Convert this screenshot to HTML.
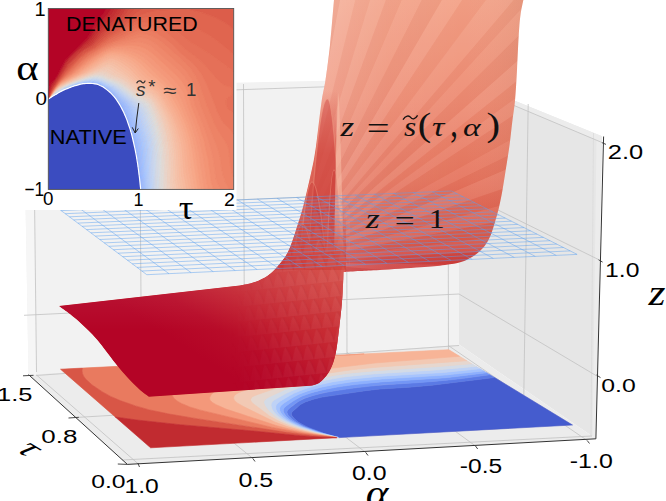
<!DOCTYPE html>
<html><head><meta charset="utf-8"><style>html,body{margin:0;padding:0;background:#fff;overflow:hidden}svg{display:block}</style></head>
<body><svg width="666" height="501" viewBox="0 0 666 501"><defs><clipPath id="silc"><path d="M334.0 0.0 C333.3 7.5 331.4 31.7 330.0 45.0 C328.6 58.3 326.9 70.8 325.5 80.0 C324.1 89.2 323.1 91.7 321.8 100.0 C320.6 108.3 319.3 120.0 318.0 130.0 C316.7 140.0 316.2 147.7 313.8 160.0 C311.4 172.3 306.8 192.3 303.8 204.0 C300.8 215.7 298.6 222.0 296.0 230.0 C293.4 238.0 291.0 246.0 288.0 252.0 C285.0 258.0 281.3 262.1 278.0 266.0 C274.7 269.9 271.8 272.8 268.0 275.5 C264.2 278.2 259.7 280.3 255.0 282.0 C250.3 283.7 242.5 284.9 240.0 285.5 L59 306 C60.8 307.3 66.7 311.4 70.0 314.0 C73.3 316.6 76.0 318.8 79.0 321.5 C82.0 324.2 85.0 327.0 88.0 330.0 C91.0 333.0 94.0 336.1 97.0 339.6 C100.0 343.1 103.0 347.1 106.0 351.0 C109.0 354.9 112.4 359.4 115.2 363.0 C118.0 366.6 120.4 369.5 123.0 372.5 C125.6 375.5 128.0 378.2 130.8 381.1 C133.6 384.0 137.0 387.4 140.0 390.0 C143.0 392.6 147.4 395.6 148.9 396.7 L310.3 385.8 C311.6 385.4 315.9 384.6 318.0 383.5 C320.1 382.4 321.1 381.5 323.0 379.5 C324.9 377.5 327.4 374.9 329.2 371.6 C331.0 368.4 332.7 364.4 334.0 360.0 C335.3 355.6 336.1 351.1 337.0 345.3 C337.9 339.5 338.7 331.9 339.5 325.0 C340.3 318.1 341.2 310.5 341.8 303.8 C342.4 297.1 342.7 290.3 343.0 285.0 C343.3 279.7 343.3 274.2 343.4 272.0 C346.2 271.8 353.9 271.3 360.0 271.0 C366.1 270.7 369.9 270.6 380.0 270.0 C390.1 269.4 409.7 268.1 420.5 267.3 C431.3 266.5 438.2 265.9 445.0 265.0 C451.8 264.1 456.5 263.3 461.0 262.0 C465.5 260.7 468.8 258.8 472.0 257.0 C475.2 255.2 477.7 253.2 480.0 251.0 C482.3 248.8 484.2 246.7 486.0 244.0 C487.8 241.3 489.3 238.6 490.8 234.9 C492.3 231.2 493.6 226.5 495.0 222.0 C496.4 217.5 497.6 213.1 498.9 207.8 C500.1 202.5 501.4 196.3 502.5 190.0 C503.6 183.7 504.5 177.7 505.7 170.0 C506.9 162.3 508.6 152.2 509.7 143.9 C510.8 135.6 511.6 127.2 512.5 120.0 C513.4 112.8 514.2 109.0 515.0 100.7 C515.8 92.4 516.4 80.8 517.0 70.0 C517.6 59.2 518.1 45.2 518.7 36.0 C519.3 26.8 519.7 21.0 520.5 15.0 C521.3 9.0 522.9 2.5 523.4 0.0 Z"/></clipPath>
<linearGradient id="wallg" x1="0" y1="0" x2="0" y2="280" gradientUnits="userSpaceOnUse"><stop offset="0.000" stop-color="rgb(243,160,133)"/><stop offset="0.357" stop-color="rgb(238,140,115)"/><stop offset="0.643" stop-color="rgb(230,118,95)"/><stop offset="0.857" stop-color="rgb(218,88,72)"/><stop offset="0.946" stop-color="rgb(205,58,56)"/><stop offset="1.000" stop-color="rgb(198,45,50)"/></linearGradient>
<linearGradient id="wallh" x1="315" y1="0" x2="525" y2="0" gradientUnits="userSpaceOnUse"><stop offset="0.000" stop-color="#fff" stop-opacity="0.22"/><stop offset="0.350" stop-color="#fff" stop-opacity="0.06"/><stop offset="0.700" stop-color="#fff" stop-opacity="0.00"/><stop offset="1.000" stop-color="#000" stop-opacity="0.04"/></linearGradient>
<linearGradient id="colg" x1="0" y1="90" x2="0" y2="300" gradientUnits="userSpaceOnUse"><stop offset="0.000" stop-color="rgb(212,70,60)" stop-opacity="0.00"/><stop offset="0.300" stop-color="rgb(212,70,60)" stop-opacity="0.60"/><stop offset="1.000" stop-color="rgb(205,60,55)" stop-opacity="0.75"/></linearGradient>
<linearGradient id="lpg" x1="245" y1="385" x2="345" y2="228" gradientUnits="userSpaceOnUse"><stop offset="0.000" stop-color="rgb(180,4,38)"/><stop offset="0.180" stop-color="rgb(184,12,41)"/><stop offset="0.420" stop-color="rgb(197,38,49)"/><stop offset="0.680" stop-color="rgb(207,60,58)"/><stop offset="1.000" stop-color="rgb(218,86,70)"/></linearGradient>
<linearGradient id="lpm" x1="0" y1="212" x2="0" y2="255" gradientUnits="userSpaceOnUse"><stop offset="0.000" stop-color="#fff" stop-opacity="0.00"/><stop offset="1.000" stop-color="#fff" stop-opacity="1.00"/></linearGradient>
<mask id="lpmask"><rect x="0" y="0" width="666" height="501" fill="url(#lpm)"/></mask>
<linearGradient id="ptop" x1="0" y1="282" x2="0" y2="330" gradientUnits="userSpaceOnUse"><stop offset="0.000" stop-color="#fff" stop-opacity="0.07"/><stop offset="1.000" stop-color="#fff" stop-opacity="0.00"/></linearGradient>
<pattern id="latt" width="11" height="15" patternUnits="userSpaceOnUse" patternTransform="rotate(-6)"><path d="M0 15 C2 7 4 2 5.5 0 C7 2 9 7 11 15 Z" fill="#fff" fill-opacity="0.05"/><path d="M5.5 0 C7 2 9 7 11 15" stroke="#6a0010" stroke-opacity="0.07" stroke-width="1.2" fill="none"/></pattern>
<linearGradient id="lattm" x1="230" y1="0" x2="345" y2="0" gradientUnits="userSpaceOnUse"><stop offset="0.000" stop-color="#fff" stop-opacity="0.00"/><stop offset="0.500" stop-color="#fff" stop-opacity="0.80"/><stop offset="1.000" stop-color="#fff" stop-opacity="1.00"/></linearGradient>
<mask id="lattmask"><rect x="0" y="0" width="666" height="501" fill="url(#lattm)"/></mask>
<clipPath id="insc"><rect x="48.3" y="8.5" width="185.4" height="180.9"/></clipPath></defs>
<polygon points="23.5,87.2 459.0,78.0 459.0,344.5 28.5,374.6" fill="#f2f2f2" />
<polygon points="459.0,78.0 602.0,136.3 595.9,438.8 459.0,344.5" fill="#e6e6e6" />
<polygon points="28.5,374.6 459.0,344.5 595.9,438.8 127.4,464.4" fill="#ececec" />
<polygon points="23.5,87.2 33.2,87.0 36.5,375.0 28.5,374.6" fill="#f6f6f6" />
<polygon points="459.0,78.0 602.0,136.3 601.5,142.3 459.0,82.3" fill="#ececec" />
<polygon points="596.5,139.0 602.0,136.3 595.9,438.8 592.5,436.5" fill="#ececec" />
<line x1="33.2" y1="84.0" x2="36.5" y2="372.0" stroke="#c2c2c2" stroke-width="0.80" />
<line x1="139.5" y1="84.0" x2="141.5" y2="372.0" stroke="#c2c2c2" stroke-width="0.80" />
<line x1="243.5" y1="84.0" x2="244.5" y2="372.0" stroke="#c2c2c2" stroke-width="0.80" />
<line x1="346.5" y1="84.0" x2="347.0" y2="372.0" stroke="#c2c2c2" stroke-width="0.80" />
<line x1="448.0" y1="84.0" x2="448.5" y2="372.0" stroke="#c2c2c2" stroke-width="0.80" />
<line x1="24.0" y1="97.0" x2="459.0" y2="82.3" stroke="#c2c2c2" stroke-width="0.80" />
<line x1="24.0" y1="208.6" x2="459.0" y2="190.8" stroke="#c2c2c2" stroke-width="0.80" />
<line x1="24.0" y1="315.3" x2="459.0" y2="294.0" stroke="#c2c2c2" stroke-width="0.80" />
<line x1="528.2" y1="104.0" x2="523.8" y2="395.0" stroke="#c2c2c2" stroke-width="0.80" />
<line x1="593.5" y1="133.0" x2="591.0" y2="436.0" stroke="#dadada" stroke-width="0.80" />
<line x1="459.0" y1="82.3" x2="601.5" y2="142.3" stroke="#c2c2c2" stroke-width="0.80" />
<line x1="459.0" y1="190.8" x2="599.0" y2="259.8" stroke="#c2c2c2" stroke-width="0.80" />
<line x1="459.0" y1="294.0" x2="596.8" y2="376.0" stroke="#c2c2c2" stroke-width="0.80" />
<line x1="36.5" y1="375.0" x2="137.8" y2="463.5" stroke="#c2c2c2" stroke-width="0.80" />
<line x1="140.5" y1="367.0" x2="252.8" y2="458.4" stroke="#c2c2c2" stroke-width="0.80" />
<line x1="244.0" y1="360.0" x2="365.7" y2="452.4" stroke="#c2c2c2" stroke-width="0.80" />
<line x1="347.0" y1="352.5" x2="475.5" y2="446.0" stroke="#c2c2c2" stroke-width="0.80" />
<line x1="448.0" y1="345.3" x2="587.2" y2="440.5" stroke="#c2c2c2" stroke-width="0.80" />
<line x1="78.9" y1="417.3" x2="515.0" y2="391.5" stroke="#c2c2c2" stroke-width="0.80" />
<line x1="36.0" y1="375.5" x2="459.0" y2="345.5" stroke="#c2c2c2" stroke-width="0.80" />
<line x1="122.0" y1="460.0" x2="592.0" y2="436.0" stroke="#c2c2c2" stroke-width="0.80" />
<line x1="28.5" y1="374.6" x2="127.4" y2="464.4" stroke="#333333" stroke-width="1.00" />
<line x1="127.4" y1="464.4" x2="595.9" y2="438.8" stroke="#333333" stroke-width="1.00" />
<line x1="603.6" y1="136.5" x2="595.9" y2="438.8" stroke="#333333" stroke-width="1.00" />
<line x1="23.0" y1="375.8" x2="33.5" y2="375.3" stroke="#333333" stroke-width="0.90" />
<line x1="68.5" y1="418.0" x2="78.9" y2="417.3" stroke="#333333" stroke-width="0.90" />
<line x1="117.8" y1="464.0" x2="127.4" y2="464.4" stroke="#333333" stroke-width="0.90" />
<line x1="137.8" y1="463.0" x2="139.5" y2="467.0" stroke="#333333" stroke-width="0.90" />
<line x1="252.8" y1="458.4" x2="255.0" y2="461.5" stroke="#333333" stroke-width="0.90" />
<line x1="365.7" y1="452.4" x2="368.0" y2="455.5" stroke="#333333" stroke-width="0.90" />
<line x1="475.5" y1="446.0" x2="477.7" y2="449.0" stroke="#333333" stroke-width="0.90" />
<line x1="587.2" y1="440.5" x2="589.5" y2="443.5" stroke="#333333" stroke-width="0.90" />
<line x1="601.8" y1="142.6" x2="606.0" y2="144.4" stroke="#333333" stroke-width="0.90" />
<line x1="598.6" y1="259.8" x2="602.6" y2="262.1" stroke="#333333" stroke-width="0.90" />
<line x1="596.5" y1="375.0" x2="600.5" y2="377.6" stroke="#333333" stroke-width="0.90" />
<polygon points="60.5,369.2 150.6,447.8 572.5,425.0 448.8,349.7" fill="#f2cbb7" />
<path d="M339.3 437.6 572.5 425.0 494.5 377.5 432.0 385.2 409.1 387.2 380.1 389.0 365.4 390.7 322.1 397.1 313.4 399.2 305.4 401.9 300.4 404.6 292.3 411.7 291.4 413.2 291.7 415.3 294.2 418.6 297.4 421.4 301.5 424.1 311.7 428.9 324.6 433.6 330.4 435.3 332.2 435.6 334.8 436.6 338.3 437.1 339.3 437.6Z" fill="#455cce" stroke="#455cce" stroke-width="0.6" stroke-linejoin="round"/>
<path d="M339.1 437.6 338.3 437.1 334.8 436.6 332.2 435.6 330.4 435.3 324.6 433.6 306.7 426.8 298.9 422.5 293.7 418.1 291.9 415.9 291.5 414.7 291.4 413.2 292.3 411.7 300.4 404.6 305.4 401.9 313.4 399.2 322.1 397.1 365.4 390.7 380.1 389.0 409.1 387.2 432.0 385.2 494.5 377.5 489.9 374.7 461.8 378.6 442.2 380.7 369.9 386.0 347.9 388.8 329.1 391.8 315.8 394.7 305.7 397.9 298.7 401.2 288.6 408.9 287.5 410.3 286.9 412.0 287.7 414.4 288.8 416.0 292.1 419.3 295.9 422.1 300.6 424.7 306.4 427.4 323.9 433.6 339.1 437.6Z" fill="#5b7ae5" stroke="#5b7ae5" stroke-width="0.6" stroke-linejoin="round"/>
<path d="M338.9 437.6 323.9 433.6 306.4 427.4 300.6 424.7 295.9 422.1 292.1 419.3 289.3 416.6 288.0 414.9 287.0 412.7 286.9 412.0 287.5 410.3 289.9 407.8 297.1 402.3 303.8 398.6 311.6 395.9 322.3 393.1 336.1 390.6 355.2 387.8 380.0 385.1 421.9 382.4 444.7 380.4 461.8 378.6 489.9 374.7 486.7 372.8 446.1 377.7 383.6 381.7 360.8 383.8 341.5 386.3 325.4 389.2 312.5 392.4 302.8 395.8 294.3 400.2 286.8 405.4 284.2 407.8 283.3 409.4 283.3 411.6 285.7 415.6 289.1 418.9 293.0 421.6 303.7 426.9 319.8 432.6 330.3 435.7 338.9 437.6Z" fill="#7396f5" stroke="#7396f5" stroke-width="0.6" stroke-linejoin="round"/>
<path d="M338.7 437.6 319.8 432.6 303.7 426.9 293.0 421.6 289.1 418.9 286.2 416.2 284.4 414.0 283.3 411.6 283.3 409.4 284.2 407.8 286.8 405.4 293.1 401.1 300.9 396.5 310.5 393.0 321.0 390.2 336.8 387.1 352.7 384.8 381.0 381.9 446.1 377.7 486.7 372.8 483.6 370.9 444.9 375.1 384.9 378.8 357.1 381.3 340.3 383.5 324.4 386.4 311.6 389.7 300.0 393.8 292.2 397.8 283.8 403.2 281.0 405.5 279.8 407.4 279.6 409.7 280.6 412.5 282.6 415.2 286.2 418.5 290.1 421.2 296.1 424.4 302.2 427.0 318.9 432.7 329.8 435.7 338.7 437.6Z" fill="#8db0fe" stroke="#8db0fe" stroke-width="0.6" stroke-linejoin="round"/>
<path d="M338.5 437.6 318.9 432.7 302.2 427.0 296.1 424.4 290.1 421.2 286.2 418.5 283.1 415.8 280.9 413.0 279.8 410.8 279.5 408.5 280.5 406.2 282.3 404.3 284.7 402.6 293.1 397.2 298.2 394.6 307.6 390.9 320.0 387.4 333.4 384.7 352.2 381.8 382.3 379.0 444.9 375.1 483.6 370.9 480.1 368.7 443.5 372.5 383.6 376.0 355.8 378.5 336.8 381.1 321.2 384.2 306.7 388.2 295.4 392.5 289.1 395.7 281.1 400.6 278.5 402.4 276.5 404.4 275.7 406.5 275.9 409.3 277.2 412.1 279.4 414.8 283.1 418.1 287.1 420.8 292.1 423.4 299.3 426.6 316.1 432.2 329.3 435.7 338.5 437.6Z" fill="#a6c4fe" stroke="#a6c4fe" stroke-width="0.6" stroke-linejoin="round"/>
<path d="M335.8 437.2 316.1 432.2 299.3 426.6 292.1 423.4 287.1 420.8 283.1 418.1 279.4 414.8 277.2 412.1 275.9 409.3 275.7 406.5 276.5 404.4 280.6 400.9 293.8 393.3 304.7 388.9 317.0 385.3 332.2 381.9 348.6 379.4 378.4 376.4 443.5 372.5 480.1 368.7 476.2 366.4 439.1 369.7 379.6 373.4 349.6 376.2 333.3 378.7 315.9 382.6 301.8 386.7 289.0 391.9 276.5 398.6 273.1 401.0 271.5 402.8 271.0 405.0 271.7 408.4 273.2 411.1 276.0 414.4 279.9 417.7 283.9 420.4 288.9 423.0 296.1 426.2 306.3 429.8 314.9 432.3 335.8 437.2Z" fill="#bed2f6" stroke="#bed2f6" stroke-width="0.6" stroke-linejoin="round"/>
<path d="M335.4 437.2 314.9 432.3 298.8 427.2 285.8 421.4 281.4 418.7 277.2 415.5 274.0 412.2 272.2 409.5 271.0 405.6 271.3 403.3 272.5 401.6 274.6 399.8 286.5 393.1 297.8 388.2 309.7 384.2 326.6 380.0 342.4 377.1 372.0 374.0 436.6 369.9 476.2 366.4 471.9 363.8 434.5 366.8 375.5 370.7 355.5 372.5 341.1 374.3 323.2 377.6 304.4 382.5 288.6 388.1 270.5 396.1 266.3 398.6 264.4 400.3 263.7 402.0 264.2 404.2 266.4 408.1 268.7 410.8 274.0 415.7 278.4 418.9 283.1 421.6 289.9 424.7 301.3 428.8 317.4 433.3 335.4 437.2Z" fill="#d3dbe7" stroke="#d3dbe7" stroke-width="0.6" stroke-linejoin="round"/>
<path d="M334.9 437.2 317.4 433.3 301.3 428.8 289.9 424.7 279.3 419.4 274.7 416.2 269.8 411.9 266.8 408.6 264.7 405.3 263.7 402.6 264.0 400.9 265.5 399.2 268.2 397.4 284.1 390.0 300.5 383.8 318.9 378.6 336.5 375.0 353.1 372.8 372.9 370.9 436.9 366.7 471.9 363.8 466.9 360.7 442.1 362.7 375.9 367.3 356.3 369.2 335.0 372.1 319.2 374.9 304.5 378.5 253.7 396.0 251.4 397.7 250.6 399.4 250.9 401.0 252.5 403.2 269.5 415.9 279.8 421.7 289.6 425.9 304.0 430.5 318.1 433.9 334.9 437.2Z" fill="#e6d7cf" stroke="#e6d7cf" stroke-width="0.6" stroke-linejoin="round"/>
<path d="M334.5 437.3 337.8 437.7 318.1 433.9 304.0 430.5 289.6 425.9 279.8 421.7 269.5 415.9 252.5 403.2 250.9 401.0 250.6 399.4 251.4 397.7 252.9 396.5 257.4 394.5 302.5 379.1 314.9 375.8 328.1 373.2 351.5 369.8 373.4 367.5 466.9 360.7 459.6 356.3 377.4 362.7 315.1 370.0 306.0 371.6 299.9 373.3 280.2 380.5 243.7 390.7 237.1 393.5 234.3 395.8 233.5 398.1 234.3 400.2 236.5 402.3 242.4 406.0 273.6 421.5 287.1 426.6 301.1 430.6 314.0 433.5 334.5 437.3Z" fill="#f2c9b4" stroke="#f2c9b4" stroke-width="0.6" stroke-linejoin="round"/>
<path d="M334.0 437.3 336.2 437.4 314.0 433.5 301.1 430.6 287.1 426.6 274.8 422.0 243.4 406.5 237.2 402.9 234.3 400.2 233.5 398.1 234.3 395.8 236.4 393.9 239.5 392.3 243.7 390.7 276.1 381.7 283.1 379.5 297.9 373.9 310.5 370.8 375.0 363.0 459.6 356.3 448.8 349.7 364.2 353.9 346.5 355.3 332.6 355.5 282.7 358.0 270.5 360.5 262.7 363.1 259.7 364.7 256.7 367.0 254.6 369.2 250.9 374.6 246.6 377.9 241.2 380.3 226.9 384.5 221.4 386.9 218.1 388.7 214.4 391.4 211.6 394.2 210.1 396.5 209.6 398.7 210.3 400.4 212.5 402.5 216.8 405.0 221.7 407.3 238.1 413.3 271.2 424.0 285.0 427.9 306.3 432.7 334.0 437.3Z" fill="#f7b497" stroke="#f7b497" stroke-width="0.6" stroke-linejoin="round"/>
<path d="M333.6 437.3 336.3 437.5 319.3 435.1 303.9 432.3 290.8 429.4 276.1 425.5 226.1 409.1 215.8 404.5 212.5 402.5 210.3 400.4 209.8 399.3 209.7 397.6 211.1 394.8 214.4 391.4 219.5 387.9 226.9 384.5 241.2 380.3 246.6 377.9 250.9 374.6 254.6 369.2 256.7 367.0 259.7 364.7 262.7 363.1 270.5 360.5 282.7 358.0 185.5 362.9 185.4 364.5 185.7 366.0 189.6 373.5 189.8 376.1 188.9 379.3 186.4 382.1 177.9 386.6 175.0 388.5 173.3 390.2 172.2 392.5 172.1 394.7 172.9 396.8 174.6 398.9 177.2 401.0 184.8 405.0 196.2 408.9 256.0 423.6 281.5 429.3 304.4 433.4 333.6 437.3ZM332.6 355.5 346.5 355.3 364.2 353.9 332.6 355.5Z" fill="#f4987a" stroke="#f4987a" stroke-width="0.6" stroke-linejoin="round"/>
<path d="M333.1 437.3 301.6 433.0 272.6 427.4 199.7 409.9 190.0 407.0 181.6 403.5 177.2 401.0 174.1 398.4 172.4 395.7 172.0 393.0 172.9 390.8 174.8 388.7 177.9 386.6 186.4 382.1 188.9 379.3 189.8 376.1 189.6 373.5 185.7 366.0 185.4 364.5 185.5 362.9 82.4 368.1 82.3 368.6 82.1 370.9 82.7 373.8 83.7 376.3 85.5 378.8 91.9 384.8 101.4 391.2 109.2 395.7 119.0 400.1 131.3 404.5 145.2 408.8 161.1 412.5 183.0 416.5 273.6 430.3 305.0 434.6 333.1 437.3Z" fill="#e97a5f" stroke="#e97a5f" stroke-width="0.6" stroke-linejoin="round"/>
<path d="M330.3 437.5 336.5 437.6 312.3 435.4 285.4 432.1 193.8 418.2 168.0 413.8 148.8 409.7 135.7 405.9 120.3 400.6 110.2 396.2 102.2 391.7 91.9 384.8 85.5 378.8 83.7 376.3 82.6 373.7 82.1 370.9 82.4 368.1 60.5 369.2 115.3 417.0 137.0 420.0 180.3 424.7 248.3 430.5 300.5 435.7 330.3 437.5Z" fill="#d85646" stroke="#d85646" stroke-width="0.6" stroke-linejoin="round"/>
<path d="M150.6 447.8 336.8 437.7 320.6 437.1 300.5 435.7 248.3 430.5 180.3 424.7 137.0 420.0 115.3 417.0 150.6 447.8Z" fill="#c12b30" stroke="#c12b30" stroke-width="0.6" stroke-linejoin="round"/>
<path d="M334.0 0.0 C333.3 7.5 331.4 31.7 330.0 45.0 C328.6 58.3 326.9 70.8 325.5 80.0 C324.1 89.2 323.1 91.7 321.8 100.0 C320.6 108.3 319.3 120.0 318.0 130.0 C316.7 140.0 316.2 147.7 313.8 160.0 C311.4 172.3 306.8 192.3 303.8 204.0 C300.8 215.7 298.6 222.0 296.0 230.0 C293.4 238.0 291.0 246.0 288.0 252.0 C285.0 258.0 281.3 262.1 278.0 266.0 C274.7 269.9 271.8 272.8 268.0 275.5 C264.2 278.2 259.7 280.3 255.0 282.0 C250.3 283.7 242.5 284.9 240.0 285.5 L59 306 C60.8 307.3 66.7 311.4 70.0 314.0 C73.3 316.6 76.0 318.8 79.0 321.5 C82.0 324.2 85.0 327.0 88.0 330.0 C91.0 333.0 94.0 336.1 97.0 339.6 C100.0 343.1 103.0 347.1 106.0 351.0 C109.0 354.9 112.4 359.4 115.2 363.0 C118.0 366.6 120.4 369.5 123.0 372.5 C125.6 375.5 128.0 378.2 130.8 381.1 C133.6 384.0 137.0 387.4 140.0 390.0 C143.0 392.6 147.4 395.6 148.9 396.7 L310.3 385.8 C311.6 385.4 315.9 384.6 318.0 383.5 C320.1 382.4 321.1 381.5 323.0 379.5 C324.9 377.5 327.4 374.9 329.2 371.6 C331.0 368.4 332.7 364.4 334.0 360.0 C335.3 355.6 336.1 351.1 337.0 345.3 C337.9 339.5 338.7 331.9 339.5 325.0 C340.3 318.1 341.2 310.5 341.8 303.8 C342.4 297.1 342.7 290.3 343.0 285.0 C343.3 279.7 343.3 274.2 343.4 272.0 C346.2 271.8 353.9 271.3 360.0 271.0 C366.1 270.7 369.9 270.6 380.0 270.0 C390.1 269.4 409.7 268.1 420.5 267.3 C431.3 266.5 438.2 265.9 445.0 265.0 C451.8 264.1 456.5 263.3 461.0 262.0 C465.5 260.7 468.8 258.8 472.0 257.0 C475.2 255.2 477.7 253.2 480.0 251.0 C482.3 248.8 484.2 246.7 486.0 244.0 C487.8 241.3 489.3 238.6 490.8 234.9 C492.3 231.2 493.6 226.5 495.0 222.0 C496.4 217.5 497.6 213.1 498.9 207.8 C500.1 202.5 501.4 196.3 502.5 190.0 C503.6 183.7 504.5 177.7 505.7 170.0 C506.9 162.3 508.6 152.2 509.7 143.9 C510.8 135.6 511.6 127.2 512.5 120.0 C513.4 112.8 514.2 109.0 515.0 100.7 C515.8 92.4 516.4 80.8 517.0 70.0 C517.6 59.2 518.1 45.2 518.7 36.0 C519.3 26.8 519.7 21.0 520.5 15.0 C521.3 9.0 522.9 2.5 523.4 0.0 Z" fill="url(#wallg)"/>
<g clip-path="url(#silc)"><rect x="290" y="0" width="240" height="275" fill="url(#wallh)"/></g>
<g clip-path="url(#silc)"><polygon points="290.0,262.0 338.8,-436.3 381.4,-432.0" fill="#fff" fill-opacity="0.050"/><polygon points="290.0,262.0 381.4,-432.0 421.2,-425.6" fill="#7a1010" fill-opacity="0.040"/><polygon points="290.0,262.0 421.2,-425.6 459.3,-417.2" fill="#fff" fill-opacity="0.080"/><polygon points="290.0,262.0 459.3,-417.2 494.7,-407.4" fill="#7a1010" fill-opacity="0.020"/><polygon points="290.0,262.0 494.7,-407.4 530.6,-395.4" fill="#fff" fill-opacity="0.065"/><polygon points="290.0,262.0 530.6,-395.4 564.6,-381.9" fill="#7a1010" fill-opacity="0.030"/><polygon points="290.0,262.0 564.6,-381.9 604.5,-363.4" fill="#fff" fill-opacity="0.050"/><polygon points="290.0,262.0 604.5,-363.4 641.1,-343.6" fill="#7a1010" fill-opacity="0.040"/><polygon points="290.0,262.0 641.1,-343.6 674.3,-323.1" fill="#fff" fill-opacity="0.080"/><polygon points="290.0,262.0 674.3,-323.1 709.3,-298.5" fill="#7a1010" fill-opacity="0.020"/><polygon points="290.0,262.0 709.3,-298.5 744.6,-270.3" fill="#fff" fill-opacity="0.065"/><polygon points="290.0,262.0 744.6,-270.3 762.0,-254.9" fill="#7a1010" fill-opacity="0.030"/><polygon points="290.0,262.0 762.0,-254.9 787.6,-230.4" fill="#fff" fill-opacity="0.050"/><polygon points="290.0,262.0 787.6,-230.4 814.3,-201.8" fill="#7a1010" fill-opacity="0.040"/><polygon points="290.0,262.0 814.3,-201.8 837.1,-174.7" fill="#fff" fill-opacity="0.080"/><polygon points="290.0,262.0 837.1,-174.7 856.3,-149.4" fill="#7a1010" fill-opacity="0.020"/><polygon points="290.0,262.0 856.3,-149.4 875.1,-122.3" fill="#fff" fill-opacity="0.065"/><polygon points="290.0,262.0 875.1,-122.3 902.2,-77.4" fill="#7a1010" fill-opacity="0.030"/><polygon points="290.0,262.0 902.2,-77.4 919.2,-44.9" fill="#fff" fill-opacity="0.050"/><polygon points="290.0,262.0 919.2,-44.9 933.4,-13.8" fill="#7a1010" fill-opacity="0.040"/><polygon points="290.0,262.0 933.4,-13.8 951.9,34.1" fill="#fff" fill-opacity="0.080"/><polygon points="290.0,262.0 951.9,34.1 966.1,80.8" fill="#7a1010" fill-opacity="0.020"/><polygon points="290.0,262.0 966.1,80.8 977.1,128.4" fill="#fff" fill-opacity="0.065"/><polygon points="290.0,262.0 977.1,128.4 984.8,176.7" fill="#7a1010" fill-opacity="0.030"/><polygon points="290.0,262.0 984.8,176.7 989.0,225.4" fill="#fff" fill-opacity="0.050"/><polygon points="290.0,262.0 989.0,225.4 989.9,274.2" fill="#7a1010" fill-opacity="0.040"/><polygon points="290.0,262.0 989.9,274.2 987.3,323.0" fill="#fff" fill-opacity="0.080"/><polygon points="290.0,262.0 987.3,323.0 981.4,371.5" fill="#7a1010" fill-opacity="0.020"/><polygon points="290.0,262.0 981.4,371.5 972.1,419.5" fill="#fff" fill-opacity="0.065"/></g>
<g clip-path="url(#silc)"><path d="M334.0 0.0 L330.0 45.0 L325.5 80.0 L321.8 100.0 L318.0 130.0 L313.8 160.0 L303.8 204.0 L296.0 230.0 L288.0 252.0 L278.0 266.0 L268.0 275.5 L300.0 300.0 L332.0 300.0 L334.0 250.0 L335.0 200.0 L336.0 150.0 L337.0 100.0 L339.0 40.0 L342.0 0.0 Z" fill="url(#colg)"/></g>
<g clip-path="url(#silc)"><path d="M306.0 300.0 C313.5 159.3 321.1 99.0 327.5 99.0 C332.1 99.0 337.6 159.3 343.0 300.0 Z" fill="rgb(200,55,52)" fill-opacity="0.39" stroke="rgb(245,165,140)" stroke-opacity="0.4" stroke-width="1.2"/><path d="M295.0 330.0 C300.9 226.4 306.9 182.0 312.0 182.0 C317.7 182.0 324.4 226.4 331.0 330.0 Z" fill="rgb(200,55,52)" fill-opacity="0.36" stroke="rgb(245,165,140)" stroke-opacity="0.4" stroke-width="1.2"/><path d="M286.0 345.0 C291.6 260.3 297.2 224.0 302.0 224.0 C308.0 224.0 315.0 260.3 322.0 345.0 Z" fill="rgb(200,55,52)" fill-opacity="0.34" stroke="rgb(245,165,140)" stroke-opacity="0.4" stroke-width="1.2"/><path d="M326.0 280.0 C328.8 203.0 331.6 170.0 334.0 170.0 C337.0 170.0 340.5 203.0 344.0 280.0 Z" fill="rgb(200,55,52)" fill-opacity="0.26" stroke="rgb(245,165,140)" stroke-opacity="0.4" stroke-width="1.2"/><path d="M306.0 360.0 C310.9 276.0 315.8 240.0 320.0 240.0 C325.4 240.0 331.7 276.0 338.0 360.0 Z" fill="rgb(200,55,52)" fill-opacity="0.29" stroke="rgb(245,165,140)" stroke-opacity="0.4" stroke-width="1.2"/></g>
<g clip-path="url(#silc)"><path d="M334 272 C335 200 336.5 120 338.5 92 C340.5 120 342 200 344.5 272 Z" fill="rgb(250,196,172)" fill-opacity="0.5"/></g>
<g clip-path="url(#silc)"><g mask="url(#lpmask)"><path d="M59 306 L240 285.5 C242.5 284.9 250.3 283.7 255.0 282.0 C259.7 280.3 264.2 278.2 268.0 275.5 C271.8 272.8 274.7 269.9 278.0 266.0 C281.3 262.1 285.0 258.0 288.0 252.0 C291.0 246.0 294.0 236.7 296.0 230.0 C298.0 223.3 299.3 215.0 300.0 212.0 L346 212 L346 390 L310.3 385.8 L148.9 396.7 C147.4 395.6 143.0 392.6 140.0 390.0 C137.0 387.4 133.6 384.0 130.8 381.1 C128.0 378.2 125.6 375.5 123.0 372.5 C120.4 369.5 118.0 366.6 115.2 363.0 C112.4 359.4 109.0 354.9 106.0 351.0 C103.0 347.1 100.0 343.1 97.0 339.6 C94.0 336.1 91.0 333.0 88.0 330.0 C85.0 327.0 82.0 324.2 79.0 321.5 C76.0 318.8 73.3 316.6 70.0 314.0 C66.7 311.4 60.8 307.3 59.0 306.0 Z" fill="url(#lpg)"/></g></g>
<g clip-path="url(#silc)"><rect x="55" y="270" width="290" height="70" fill="url(#ptop)"/></g>
<g clip-path="url(#silc)"><g mask="url(#lattmask)"><rect x="220" y="200" width="130" height="200" fill="url(#latt)"/></g></g>
<path d="M577.1 254.4 L451.6 191.0 M556.3 255.4 L432.4 191.8 M535.3 256.4 L413.2 192.6 M514.3 257.4 L393.9 193.4 M493.3 258.4 L374.6 194.2 M472.2 259.4 L355.2 195.0 M451.0 260.4 L335.7 195.8 M429.7 261.4 L316.2 196.7 M408.4 262.4 L296.6 197.5 M387.0 263.4 L277.0 198.3 M365.5 264.4 L257.3 199.1 M344.0 265.4 L237.5 200.0 M322.3 266.4 L217.7 200.8 M300.7 267.4 L197.8 201.6 M278.9 268.5 L177.9 202.4 M257.1 269.5 L157.9 203.3 M235.2 270.5 L137.8 204.1 M213.2 271.6 L117.7 205.0 M191.1 272.6 L97.5 205.8 M169.0 273.7 L77.3 206.7 M146.8 274.7 L57.0 207.5 M146.8 274.7 L577.1 254.4 M141.9 271.0 L570.2 250.9 M137.0 267.4 L563.5 247.5 M132.2 263.8 L556.7 244.1 M127.4 260.2 L550.1 240.7 M122.7 256.7 L543.5 237.4 M118.0 253.2 L536.9 234.1 M113.4 249.7 L530.5 230.8 M108.8 246.3 L524.1 227.6 M104.2 242.9 L517.7 224.4 M99.7 239.5 L511.4 221.2 M95.3 236.1 L505.2 218.1 M90.9 232.8 L499.0 215.0 M86.5 229.6 L492.9 211.9 M82.2 226.3 L486.8 208.8 M77.9 223.1 L480.8 205.8 M73.6 219.9 L474.9 202.8 M69.4 216.8 L469.0 199.8 M65.2 213.7 L463.1 196.8 M61.1 210.6 L457.3 193.9 M57.0 207.5 L451.6 191.0" stroke="rgb(90,160,240)" stroke-opacity="0.6" stroke-width="0.8" fill="none"/>
<rect x="0" y="0" width="236.5" height="210" fill="#fff"/>
<g clip-path="url(#insc)">
<rect x="48.3" y="8.5" width="185.4" height="180.9" fill="#f7ac8e"/>
<path d="M48.3 189.4 141.5 189.4 141.5 188.3 140.4 187.1 140.3 175.7 139.2 174.6 139.2 167.8 138.0 166.6 138.0 159.8 136.9 158.7 136.8 153.0 135.7 151.9 135.7 147.3 134.6 146.2 134.5 142.8 133.4 141.6 133.3 137.1 132.2 135.9 132.2 132.5 131.0 131.4 131.0 129.1 129.9 128.0 129.8 125.7 128.7 124.5 128.7 122.3 127.5 121.1 127.5 118.9 126.4 117.7 126.4 116.6 125.2 115.4 125.2 113.2 124.0 112.0 124.0 110.9 122.9 109.8 122.9 108.6 121.7 107.5 121.7 106.3 119.4 104.1 119.4 102.9 118.2 101.8 118.2 100.7 114.7 97.2 114.7 96.1 108.9 90.5 107.8 90.5 104.3 87.1 103.1 87.1 100.8 84.9 99.6 84.8 98.4 83.8 93.8 83.6 92.6 82.6 84.4 82.7 83.3 83.7 78.6 83.9 77.5 84.8 75.1 85.0 74.0 86.0 71.6 86.1 70.5 87.1 69.3 87.2 68.1 88.2 65.8 88.4 64.6 89.4 63.5 89.6 62.3 90.6 61.1 90.7 60.0 91.7 58.8 91.9 56.5 93.9 55.3 94.2 54.1 95.2 53.0 95.4 50.6 97.5 49.5 97.9 48.3 99.2 48.3 189.4Z" fill="#3b4cc0" stroke="#3b4cc0" stroke-width="0.6" stroke-linejoin="round"/>
<path d="M141.5 189.4 141.5 188.3 140.7 187.1 140.4 175.7 139.4 174.6 139.2 167.8 138.3 166.6 138.1 159.8 137.3 158.7 136.9 153.0 136.2 151.9 135.7 147.3 133.4 138.6 133.4 137.1 132.3 135.0 132.2 132.5 131.1 131.4 131.1 129.1 130.0 128.0 129.9 125.7 128.9 124.5 128.7 122.3 127.7 121.1 127.6 118.9 126.4 117.7 126.4 116.6 125.3 114.7 125.2 113.2 124.2 112.0 124.1 110.9 123.2 109.8 121.8 106.3 118.3 101.6 118.2 100.7 114.8 97.2 114.7 96.1 108.9 90.5 107.9 90.4 104.3 87.1 103.1 87.0 100.8 84.8 99.6 84.8 98.4 83.7 93.8 83.6 92.6 82.6 84.4 82.6 83.3 83.6 78.6 83.8 77.5 84.8 75.1 84.9 74.0 85.9 71.6 86.1 70.5 87.1 69.3 87.2 68.1 88.1 65.8 88.4 64.6 89.4 63.5 89.5 60.0 91.7 58.8 91.9 56.5 93.9 55.3 94.1 54.1 95.2 53.0 95.4 50.6 97.5 49.5 97.9 48.3 99.2 49.5 97.9 50.6 97.5 53.0 95.4 54.1 95.2 55.3 94.2 56.5 93.9 58.8 91.9 60.0 91.7 63.5 89.6 64.6 89.4 65.8 88.4 68.1 88.2 69.3 87.2 70.5 87.1 71.6 86.1 74.0 86.0 75.1 85.0 77.5 84.8 78.6 83.9 83.3 83.7 84.4 82.7 92.6 82.6 93.8 83.6 98.4 83.8 99.6 84.8 100.8 84.9 103.1 87.1 104.3 87.1 107.8 90.5 108.9 90.5 114.7 96.1 114.7 97.2 118.2 100.7 118.2 101.8 119.4 102.9 119.4 104.1 121.7 106.3 121.7 107.5 122.9 108.6 122.9 109.8 124.0 110.9 124.0 112.0 125.2 113.2 125.2 115.4 126.4 116.6 126.4 117.7 127.5 118.9 127.5 121.1 128.7 122.3 128.7 124.5 129.8 125.7 129.9 128.0 131.0 129.1 131.0 131.4 132.2 132.5 132.2 135.9 133.3 137.1 133.4 141.6 134.5 142.8 134.6 146.2 135.7 147.3 135.7 151.9 136.8 153.0 136.9 158.7 138.0 159.8 138.0 166.6 139.2 167.8 139.2 174.6 140.3 175.7 140.4 187.1 141.5 188.3 141.5 189.4Z" fill="#8fb1fe" stroke="#8fb1fe" stroke-width="0.6" stroke-linejoin="round"/>
<path d="M141.5 189.4 141.9 189.4 141.4 182.6 138.6 158.7 136.6 145.0 135.2 139.3 128.8 120.0 123.1 106.3 120.7 102.9 112.7 93.8 108.9 90.4 104.3 87.0 101.9 85.8 100.8 84.8 99.6 84.7 98.4 83.7 93.8 83.2 92.6 82.5 84.4 82.6 83.3 83.5 78.6 83.8 77.5 84.7 75.1 84.9 74.0 85.8 71.6 86.0 70.5 87.0 69.3 87.1 67.7 88.1 65.8 88.3 64.6 89.3 63.5 89.5 60.0 91.6 58.8 91.8 56.5 93.8 53.0 95.4 50.6 97.5 49.5 97.9 48.3 99.2 49.5 97.9 50.6 97.5 53.0 95.4 54.1 95.2 55.3 94.1 56.5 93.9 58.8 91.9 60.0 91.7 63.5 89.5 64.6 89.4 65.8 88.4 68.1 88.1 69.3 87.2 70.5 87.1 71.6 86.1 74.0 85.9 75.1 84.9 77.5 84.8 78.6 83.8 83.3 83.6 84.4 82.6 92.6 82.6 93.8 83.6 98.4 83.7 99.6 84.8 100.8 84.8 103.1 87.0 104.3 87.1 107.9 90.4 108.9 90.5 114.7 96.1 114.8 97.2 118.2 100.7 118.3 101.6 121.8 106.3 123.2 109.8 124.1 110.9 124.2 112.0 125.2 113.2 125.3 114.7 126.4 116.6 126.4 117.7 127.6 118.9 127.7 121.1 128.7 122.3 128.9 124.5 129.9 125.7 130.0 128.0 131.1 129.1 131.1 131.4 132.2 132.5 132.3 135.0 133.4 137.1 133.4 138.6 135.7 147.3 136.2 151.9 136.9 153.0 137.3 158.7 138.1 159.8 138.3 166.6 139.2 167.8 139.4 174.6 140.4 175.7 140.7 187.1 141.5 188.3 141.5 189.4Z" fill="#93b5fe" stroke="#93b5fe" stroke-width="0.6" stroke-linejoin="round"/>
<path d="M141.9 189.4 142.9 189.4 142.3 180.3 139.2 153.0 138.1 145.0 137.0 140.5 130.3 120.0 124.7 106.3 123.2 104.1 113.6 93.8 106.8 88.1 98.4 83.6 92.6 82.5 84.4 82.6 83.3 83.2 78.6 83.7 77.5 84.5 75.1 84.8 73.3 85.9 71.6 86.0 70.5 86.9 67.2 88.1 65.8 88.3 64.6 89.3 63.5 89.4 62.3 90.4 61.1 90.6 60.0 91.6 58.8 91.8 56.3 93.8 53.0 95.3 50.6 97.4 49.5 97.9 48.3 99.2 49.5 97.9 50.6 97.5 53.0 95.4 54.1 95.1 55.3 94.1 56.5 93.8 58.8 91.8 60.0 91.6 63.5 89.5 64.6 89.3 65.8 88.3 67.7 88.1 69.3 87.1 70.5 87.0 71.6 86.0 74.0 85.8 75.1 84.9 77.5 84.7 78.6 83.8 83.3 83.5 84.4 82.6 92.6 82.5 93.8 83.2 98.4 83.7 99.6 84.7 100.8 84.8 101.9 85.8 104.3 87.0 108.9 90.4 112.7 93.8 120.7 102.9 123.1 106.3 128.8 120.0 135.2 139.3 136.3 143.9 138.3 156.4 141.2 180.3 141.9 189.4Z" fill="#98b9ff" stroke="#98b9ff" stroke-width="0.6" stroke-linejoin="round"/>
<path d="M142.9 189.4 144.0 189.4 143.2 178.0 140.1 148.4 138.2 139.3 131.4 118.9 126.1 106.3 123.7 102.9 114.6 93.8 107.8 88.1 104.0 85.9 99.6 83.8 93.8 82.5 84.4 82.5 78.6 83.7 65.8 88.2 62.0 90.4 61.1 90.5 59.9 91.6 58.8 91.7 56.2 93.8 55.3 94.0 54.1 95.0 53.0 95.3 50.6 97.4 49.5 97.8 48.3 99.2 49.5 97.9 50.6 97.4 53.0 95.3 54.1 95.1 55.3 94.1 56.5 93.7 58.8 91.8 60.0 91.6 61.1 90.6 62.3 90.4 63.5 89.4 64.6 89.3 65.8 88.3 67.2 88.1 70.5 86.9 71.6 86.0 73.3 85.9 75.1 84.8 77.5 84.5 78.6 83.7 83.3 83.2 84.4 82.6 92.6 82.5 98.4 83.6 106.8 88.1 113.6 93.8 123.2 104.1 124.7 106.3 130.3 120.0 136.7 139.3 138.1 145.0 139.5 155.3 142.3 180.3 142.9 189.4Z" fill="#9dbdff" stroke="#9dbdff" stroke-width="0.6" stroke-linejoin="round"/>
<path d="M144.0 189.4 145.0 189.4 144.7 182.6 141.8 150.7 140.6 142.8 138.7 135.9 131.7 115.4 128.2 107.5 125.2 102.9 113.1 91.6 107.0 87.0 99.6 83.4 96.1 82.4 92.6 82.0 84.4 82.5 78.6 83.6 71.6 85.9 65.8 88.2 59.7 91.6 58.8 91.7 49.5 97.8 48.3 99.2 49.5 97.8 50.6 97.4 53.0 95.3 54.1 95.0 58.8 91.7 59.9 91.6 61.1 90.5 62.0 90.4 65.8 88.2 78.6 83.7 84.4 82.5 93.8 82.5 99.6 83.8 104.0 85.9 107.8 88.1 114.6 93.8 123.7 102.9 126.1 106.3 131.4 118.9 138.2 139.3 139.4 143.9 140.5 151.9 143.3 179.2 144.0 189.4Z" fill="#a1c0ff" stroke="#a1c0ff" stroke-width="0.6" stroke-linejoin="round"/>
<path d="M145.0 189.4 146.0 189.4 145.6 181.4 143.1 149.6 142.1 142.8 139.8 134.8 132.8 114.3 128.9 106.3 125.3 101.8 114.1 91.6 108.0 87.0 99.6 83.0 96.1 82.0 92.6 81.7 87.9 81.8 82.1 82.7 70.5 86.3 65.8 88.2 58.8 91.7 49.5 97.8 48.3 99.2 49.5 97.8 50.6 97.3 53.0 95.3 54.1 95.0 58.8 91.7 59.7 91.6 65.8 88.2 71.6 85.9 78.6 83.6 84.4 82.5 92.6 82.0 96.1 82.4 99.6 83.4 107.0 87.0 113.1 91.6 125.2 102.9 128.2 107.5 131.7 115.4 138.7 135.9 140.6 142.8 142.1 154.1 145.0 189.4Z" fill="#a5c3fe" stroke="#a5c3fe" stroke-width="0.6" stroke-linejoin="round"/>
<path d="M146.0 189.4 147.0 189.4 146.6 180.3 144.5 149.6 143.6 142.8 141.3 134.8 134.4 114.3 130.3 106.3 126.6 101.8 115.1 91.6 109.0 87.0 100.8 82.9 97.3 81.9 93.8 81.4 89.1 81.4 83.3 82.2 71.6 85.7 65.8 88.0 58.8 91.6 49.5 97.8 48.3 99.1 49.5 97.8 50.6 97.3 53.0 95.2 54.1 95.0 58.8 91.7 65.8 88.2 71.6 85.9 83.3 82.5 87.9 81.8 92.6 81.7 96.1 82.0 99.6 83.0 108.0 87.0 114.1 91.6 125.3 101.8 128.9 106.3 132.3 113.2 135.7 122.3 141.8 141.6 143.2 150.7 146.0 189.4Z" fill="#aac7fd" stroke="#aac7fd" stroke-width="0.6" stroke-linejoin="round"/>
<path d="M147.0 189.4 148.0 189.4 147.5 178.0 145.7 148.4 144.7 141.6 141.6 130.9 135.9 114.3 132.4 107.5 127.8 101.8 114.8 90.4 110.0 87.0 100.8 82.5 97.3 81.5 93.8 81.0 89.1 81.1 83.3 82.0 71.6 85.5 62.3 89.6 53.0 95.2 50.6 97.2 49.5 97.8 48.3 99.1 49.5 97.8 50.6 97.2 53.0 95.2 53.9 95.0 58.8 91.6 65.8 88.0 71.6 85.7 83.3 82.2 89.1 81.4 93.8 81.4 97.3 81.9 100.8 82.9 109.0 87.0 115.1 91.6 126.6 101.8 130.3 106.3 134.4 114.3 138.0 124.5 143.3 141.6 144.5 149.6 147.0 189.4Z" fill="#aec9fc" stroke="#aec9fc" stroke-width="0.6" stroke-linejoin="round"/>
<path d="M148.0 189.4 149.0 189.4 148.6 176.9 147.0 148.4 146.1 141.6 142.7 129.9 137.4 114.3 133.8 107.5 129.0 101.8 115.8 90.4 111.0 87.0 106.9 84.7 100.8 82.0 97.3 81.0 93.8 80.6 89.1 80.8 83.3 81.8 77.5 83.3 70.5 85.7 61.1 90.1 53.0 95.1 49.5 97.7 48.3 99.1 49.5 97.8 50.6 97.2 53.0 95.2 62.3 89.6 71.6 85.5 83.3 82.0 89.1 81.1 93.8 81.0 97.3 81.5 100.8 82.5 110.0 87.0 114.8 90.4 127.8 101.8 132.4 107.5 135.9 114.3 141.6 130.9 144.7 141.6 145.8 149.6 148.0 189.4Z" fill="#b2ccfb" stroke="#b2ccfb" stroke-width="0.6" stroke-linejoin="round"/>
<path d="M149.0 189.4 150.1 189.4 148.4 149.6 147.5 141.6 144.7 131.4 139.0 114.3 135.2 107.5 130.2 101.8 116.8 90.4 112.1 87.0 101.9 82.0 98.4 80.9 94.9 80.3 90.3 80.4 84.4 81.3 77.5 83.1 71.6 85.1 61.1 89.9 49.5 97.7 48.3 99.1 49.5 97.7 53.0 95.1 61.1 90.1 70.5 85.7 77.5 83.3 83.3 81.8 89.1 80.8 93.8 80.6 97.3 81.0 100.8 82.0 106.9 84.7 111.0 87.0 115.8 90.4 129.0 101.8 133.8 107.5 137.4 114.3 142.7 129.9 146.1 141.6 147.1 149.6 149.0 189.4Z" fill="#b6cefa" stroke="#b6cefa" stroke-width="0.6" stroke-linejoin="round"/>
<path d="M150.1 189.4 151.1 189.4 150.6 172.3 149.6 148.4 148.5 140.5 143.9 124.4 140.0 113.2 136.7 107.5 131.5 101.8 117.9 90.4 112.4 86.6 101.9 81.6 98.4 80.4 94.9 79.9 90.3 80.1 84.4 81.0 77.5 82.8 70.5 85.3 61.1 89.8 49.5 97.7 48.3 99.1 49.5 97.7 53.0 95.1 61.1 89.9 71.6 85.1 77.5 83.1 84.4 81.3 90.3 80.4 94.9 80.3 98.4 80.9 101.9 82.0 112.1 87.0 116.8 90.4 130.2 101.8 135.2 107.5 138.5 113.2 141.6 121.6 147.2 140.5 148.4 149.6 150.1 189.4Z" fill="#bbd1f8" stroke="#bbd1f8" stroke-width="0.6" stroke-linejoin="round"/>
<path d="M151.1 189.4 152.2 189.4 150.9 150.7 149.8 140.5 146.8 129.1 141.9 114.3 139.0 108.6 134.0 102.9 118.9 90.4 113.6 86.6 108.9 84.1 101.9 81.1 98.4 80.0 94.9 79.5 90.3 79.7 84.4 80.8 77.5 82.6 70.5 85.1 61.1 89.6 49.5 97.7 48.3 99.1 49.5 97.7 53.0 95.0 61.1 89.8 70.5 85.3 77.5 82.8 84.4 81.0 90.3 80.1 94.9 79.9 98.4 80.4 101.9 81.6 112.4 86.6 117.9 90.4 131.5 101.8 136.7 107.5 140.0 113.2 143.9 124.4 148.5 140.5 149.6 149.6 151.1 189.4Z" fill="#bfd3f6" stroke="#bfd3f6" stroke-width="0.6" stroke-linejoin="round"/>
<path d="M152.2 189.4 153.4 189.4 152.8 168.9 152.0 148.4 150.9 139.6 147.4 126.5 142.9 113.2 139.7 107.5 135.4 102.9 118.6 89.3 113.6 85.9 101.9 80.6 96.1 79.2 91.4 79.3 85.6 80.3 78.6 82.0 70.5 84.9 64.6 87.5 60.0 90.1 49.5 97.6 48.3 99.0 49.5 97.7 53.0 95.0 61.1 89.6 70.5 85.1 77.5 82.6 84.4 80.8 90.3 79.7 94.9 79.5 98.4 80.0 101.9 81.1 108.9 84.1 113.6 86.6 118.9 90.4 134.0 102.9 138.2 107.5 141.6 113.4 146.2 127.3 149.7 140.1 150.9 150.7 152.2 189.4Z" fill="#c3d5f4" stroke="#c3d5f4" stroke-width="0.6" stroke-linejoin="round"/>
<path d="M153.4 189.4 154.5 189.4 154.0 166.6 153.2 148.4 152.1 139.3 148.9 126.8 144.4 113.2 141.2 107.5 136.7 102.9 119.7 89.3 114.8 85.9 110.3 83.6 101.9 80.1 96.1 78.8 91.4 78.9 85.6 80.0 77.5 82.2 69.3 85.2 60.0 89.9 49.5 97.6 48.3 99.0 49.5 97.6 54.1 94.1 60.0 90.1 64.6 87.5 71.6 84.4 78.6 82.0 86.8 80.0 91.4 79.3 96.1 79.2 101.9 80.6 113.6 85.9 118.6 89.3 135.4 102.9 139.7 107.5 142.9 113.2 147.4 126.5 150.9 139.3 151.7 145.0 152.2 151.9 153.4 189.4Z" fill="#c6d6f1" stroke="#c6d6f1" stroke-width="0.6" stroke-linejoin="round"/>
<path d="M154.5 189.4 155.7 189.4 155.3 181.4 155.2 165.5 154.4 148.4 153.3 139.3 150.9 129.1 146.2 114.3 143.5 108.6 139.5 104.1 120.6 89.1 115.9 85.8 111.7 83.6 101.9 79.5 96.1 78.3 91.4 78.6 86.8 79.5 77.5 81.9 70.5 84.5 65.8 86.5 60.0 89.8 55.3 92.9 49.5 97.6 48.3 99.0 49.5 97.6 54.1 94.0 60.0 89.9 69.3 85.2 77.5 82.2 85.6 80.0 91.4 78.9 96.1 78.8 101.9 80.1 110.3 83.6 114.8 85.9 119.7 89.3 136.7 102.9 141.2 107.5 144.4 113.2 148.6 125.9 151.9 138.2 152.8 143.9 153.4 151.9 154.5 189.4Z" fill="#cbd8ee" stroke="#cbd8ee" stroke-width="0.6" stroke-linejoin="round"/>
<path d="M155.7 189.4 156.9 189.4 156.5 180.3 156.4 164.4 155.7 149.6 154.6 139.3 152.1 128.7 147.4 113.9 145.0 108.6 141.1 104.1 117.1 85.8 112.4 83.3 101.9 79.0 97.3 77.9 92.6 78.0 87.9 78.9 77.5 81.7 70.5 84.3 65.8 86.3 60.0 89.6 55.3 92.8 49.5 97.6 48.3 99.0 49.5 97.6 53.0 94.7 60.0 89.8 65.8 86.5 70.5 84.5 77.5 81.9 86.8 79.5 91.4 78.6 96.1 78.3 101.9 79.5 111.7 83.6 115.9 85.8 120.6 89.1 139.5 104.1 143.5 108.6 145.8 113.2 149.9 125.7 153.1 138.2 154.1 145.0 154.7 153.0 155.7 189.4Z" fill="#cedaeb" stroke="#cedaeb" stroke-width="0.6" stroke-linejoin="round"/>
<path d="M156.9 189.4 158.2 189.4 157.3 156.4 155.8 139.3 153.2 128.2 148.9 114.3 146.2 108.4 142.8 104.1 131.1 95.8 121.7 88.1 117.1 85.0 113.6 83.2 101.9 78.4 97.3 77.4 92.6 77.7 87.9 78.6 78.6 81.1 70.5 84.0 64.6 86.7 58.8 90.1 54.1 93.5 49.5 97.6 48.3 99.0 53.0 94.6 60.0 89.6 65.8 86.3 70.5 84.3 77.5 81.7 87.9 78.9 92.6 78.0 97.3 77.9 101.9 79.0 112.4 83.3 117.1 85.8 141.1 104.1 144.2 107.5 147.1 113.2 151.5 126.8 154.4 138.2 155.3 145.0 156.0 154.1 156.9 189.4Z" fill="#d2dbe8" stroke="#d2dbe8" stroke-width="0.6" stroke-linejoin="round"/>
<path d="M158.2 189.4 159.4 189.4 158.8 162.1 158.1 148.4 156.8 138.2 154.2 126.8 149.7 113.2 147.2 107.5 143.9 103.6 132.3 95.8 121.8 87.2 117.1 84.2 101.9 77.8 97.3 76.9 92.6 77.2 87.9 78.3 78.6 80.8 69.3 84.3 64.6 86.5 58.8 89.9 54.1 93.3 49.5 97.5 48.3 99.0 53.0 94.5 58.8 90.1 64.6 86.7 70.5 84.0 78.6 81.1 87.9 78.6 92.6 77.7 97.3 77.4 101.9 78.4 113.6 83.2 117.1 85.0 121.7 88.1 131.1 95.8 142.8 104.1 145.7 107.5 148.6 113.5 152.9 126.8 155.6 138.2 156.6 146.2 157.3 155.3 158.2 189.4Z" fill="#d5dbe5" stroke="#d5dbe5" stroke-width="0.6" stroke-linejoin="round"/>
<path d="M159.4 189.4 160.7 189.4 160.1 162.1 159.4 149.6 158.1 138.2 155.8 128.0 151.4 114.3 147.8 106.3 144.9 102.9 132.4 95.0 122.9 87.2 118.3 84.0 103.1 77.6 98.4 76.4 93.8 76.6 89.1 77.6 78.6 80.6 69.3 84.1 64.6 86.3 58.8 89.7 54.1 93.2 49.5 97.5 48.3 99.0 53.0 94.3 58.8 89.9 64.6 86.5 69.3 84.3 78.6 80.8 87.9 78.3 92.6 77.2 97.3 76.9 101.9 77.8 117.1 84.2 121.8 87.2 132.3 95.8 143.9 103.6 147.2 107.5 149.7 113.2 153.8 125.7 156.6 137.1 157.7 145.0 158.5 155.3 159.4 189.4Z" fill="#d9dce1" stroke="#d9dce1" stroke-width="0.6" stroke-linejoin="round"/>
<path d="M160.7 189.4 162.0 189.4 161.4 162.1 160.7 149.6 159.3 138.2 157.1 128.0 153.1 115.4 149.7 107.4 147.7 104.1 146.2 102.6 133.4 94.8 124.0 87.0 119.0 83.6 114.8 81.5 107.4 79.0 103.1 76.9 98.4 75.9 93.8 76.2 89.1 77.2 77.5 80.7 68.1 84.4 62.3 87.3 57.6 90.3 54.1 93.0 49.5 97.5 48.3 98.9 54.1 93.2 58.8 89.7 64.6 86.3 69.3 84.1 78.6 80.6 89.1 77.6 93.8 76.6 98.4 76.4 103.1 77.6 118.3 84.0 122.9 87.2 132.4 95.0 144.9 102.9 147.8 106.3 151.0 113.2 155.1 125.7 157.9 137.1 159.0 145.0 159.8 155.3 160.7 189.4Z" fill="#dcdddd" stroke="#dcdddd" stroke-width="0.6" stroke-linejoin="round"/>
<path d="M162.0 189.4 163.4 189.4 162.7 162.1 162.0 149.6 160.4 137.1 158.1 126.8 153.9 114.3 150.4 106.3 148.6 103.5 146.9 101.8 133.4 93.9 124.1 86.0 119.4 82.9 114.8 80.7 107.8 78.4 103.1 76.1 98.4 75.2 93.8 75.7 87.9 77.2 77.5 80.4 68.1 84.1 63.5 86.4 57.6 90.0 54.1 92.8 49.5 97.5 48.3 98.9 53.0 94.1 57.6 90.3 62.3 87.3 68.1 84.4 77.5 80.7 89.1 77.2 93.8 76.2 98.4 75.9 103.1 76.9 107.4 79.0 114.8 81.5 119.0 83.6 124.0 87.0 133.4 94.8 146.2 102.6 149.2 106.3 152.3 113.2 156.4 125.7 158.9 135.9 160.1 143.9 161.1 155.3 162.0 189.4Z" fill="#dfdbd9" stroke="#dfdbd9" stroke-width="0.6" stroke-linejoin="round"/>
<path d="M163.4 189.4 164.8 189.4 164.0 161.0 163.2 148.4 161.5 135.9 158.7 124.5 154.8 113.2 151.0 105.2 149.5 102.9 147.4 100.9 143.9 98.6 134.6 93.8 124.1 84.9 119.4 81.9 115.9 80.4 108.5 77.9 103.1 75.2 99.6 74.6 94.9 75.0 90.3 76.1 78.6 79.7 67.0 84.4 61.1 87.5 56.5 90.6 53.0 93.8 48.3 98.9 53.0 93.9 56.5 90.9 61.1 87.8 68.1 84.1 77.5 80.4 87.9 77.2 93.8 75.7 98.4 75.2 103.1 76.1 107.8 78.4 114.8 80.7 119.4 82.9 124.1 86.0 133.4 93.9 146.9 101.8 149.8 105.2 153.5 113.2 157.8 125.7 160.2 135.9 161.5 145.0 162.5 156.4 163.4 189.4Z" fill="#e2dad5" stroke="#e2dad5" stroke-width="0.6" stroke-linejoin="round"/>
<path d="M164.8 189.4 166.2 189.4 165.4 159.8 164.5 148.4 162.6 134.8 159.7 123.4 155.1 110.9 151.6 104.1 149.7 101.7 147.4 99.6 134.6 92.8 125.3 84.7 120.6 81.6 115.9 79.5 108.9 77.1 104.3 74.7 99.6 73.9 94.9 74.4 89.1 76.0 77.5 79.9 67.0 84.1 61.1 87.3 56.5 90.4 53.0 93.7 48.3 98.9 53.0 93.8 56.5 90.6 61.1 87.5 67.0 84.4 78.6 79.7 90.3 76.1 94.9 75.0 99.6 74.6 103.1 75.2 108.5 77.9 115.9 80.4 119.4 81.9 124.1 84.9 134.6 93.8 143.9 98.6 147.4 100.9 149.5 102.9 150.9 105.0 154.3 112.0 158.4 123.4 161.3 134.8 162.7 143.9 163.8 156.4 164.8 189.4Z" fill="#e6d7cf" stroke="#e6d7cf" stroke-width="0.6" stroke-linejoin="round"/>
<path d="M166.2 189.4 167.7 189.4 167.2 181.4 166.8 159.8 165.9 148.4 164.0 134.8 161.1 123.4 156.8 112.0 152.8 104.1 150.9 101.4 148.6 99.2 145.1 97.0 135.8 92.6 126.4 84.4 120.6 80.5 110.7 76.8 104.3 73.6 100.8 73.0 96.1 73.6 90.3 75.2 77.5 79.6 65.8 84.5 60.0 87.7 56.5 90.2 53.0 93.5 48.3 98.9 53.0 93.7 56.5 90.4 61.1 87.3 67.0 84.1 77.5 79.9 89.1 76.0 94.9 74.4 99.6 73.9 104.3 74.7 108.9 77.1 115.9 79.5 120.6 81.6 125.3 84.7 134.6 92.8 147.4 99.6 149.7 101.7 151.6 104.1 155.1 110.9 159.3 122.3 162.4 133.7 163.9 142.8 165.1 155.3 166.2 189.4Z" fill="#e9d5cb" stroke="#e9d5cb" stroke-width="0.6" stroke-linejoin="round"/>
<path d="M167.7 189.4 169.3 189.4 168.7 181.4 168.3 158.7 167.4 148.4 165.2 133.7 162.1 122.3 157.6 110.9 153.2 102.8 150.9 99.8 148.6 97.8 145.1 95.8 135.8 91.6 127.1 83.6 121.8 80.0 111.0 75.6 105.4 72.7 101.9 72.1 97.3 72.6 92.6 73.9 77.5 79.3 65.8 84.2 60.0 87.4 56.5 89.9 48.3 98.9 53.0 93.5 56.5 90.2 60.0 87.7 65.8 84.5 77.5 79.6 90.3 75.2 96.1 73.6 100.8 73.0 104.3 73.6 110.7 76.8 120.6 80.5 126.4 84.4 135.8 92.6 145.1 97.0 148.6 99.2 152.1 102.9 156.3 110.9 160.7 122.3 163.5 132.5 165.1 141.6 166.6 155.3 167.7 189.4Z" fill="#ebd3c6" stroke="#ebd3c6" stroke-width="0.6" stroke-linejoin="round"/>
<path d="M169.3 189.4 170.9 189.4 170.2 181.4 169.8 158.7 168.9 148.4 166.6 133.7 163.5 122.3 158.9 110.9 153.9 101.8 152.1 99.5 149.6 97.2 146.2 95.1 136.9 91.1 127.6 82.6 122.9 79.3 111.8 74.5 106.6 71.6 103.1 71.0 98.4 71.6 93.8 72.9 78.6 78.5 65.8 83.9 60.0 87.1 56.5 89.7 48.3 98.8 56.5 89.9 60.0 87.4 65.8 84.2 77.5 79.3 92.6 73.9 97.3 72.6 101.9 72.1 105.4 72.7 111.0 75.6 121.8 80.0 127.1 83.6 135.8 91.6 145.1 95.8 148.6 97.8 152.6 101.8 157.1 109.8 161.7 121.1 164.7 131.4 166.3 140.5 168.0 154.1 168.7 182.6 169.3 189.4Z" fill="#edd1c2" stroke="#edd1c2" stroke-width="0.6" stroke-linejoin="round"/>
<path d="M170.9 189.4 172.8 189.4 171.9 182.6 171.4 157.5 170.2 146.2 167.8 132.5 164.5 121.1 159.7 109.8 154.5 100.7 152.6 98.4 150.0 96.1 146.2 93.9 136.9 89.7 128.8 82.0 122.9 77.9 113.1 73.4 107.8 70.2 104.3 69.6 99.6 70.3 92.6 72.7 71.6 81.0 64.6 84.2 60.0 86.8 56.5 89.4 48.3 98.8 56.5 89.7 60.0 87.1 65.8 83.9 78.6 78.5 93.8 72.9 98.4 71.6 103.1 71.0 106.6 71.6 111.8 74.5 122.9 79.3 127.6 82.6 136.9 91.1 146.2 95.1 149.6 97.2 152.1 99.5 153.9 101.8 158.4 109.8 163.1 121.1 166.4 132.5 167.8 140.5 169.5 154.1 170.3 182.6 170.9 189.4Z" fill="#f0cdbb" stroke="#f0cdbb" stroke-width="0.6" stroke-linejoin="round"/>
<path d="M172.8 189.4 174.7 189.4 173.6 181.4 173.0 156.4 171.8 145.0 169.4 132.5 166.0 121.1 161.2 109.8 155.6 100.1 153.2 97.3 150.9 95.3 147.4 93.1 138.1 88.9 128.8 80.3 124.1 77.0 114.9 72.2 109.8 68.8 106.6 67.8 101.9 68.6 96.1 70.6 71.6 80.6 64.6 83.9 60.0 86.5 56.5 89.2 48.3 98.8 56.5 89.4 60.0 86.8 64.6 84.2 71.6 81.0 92.6 72.7 99.6 70.3 104.3 69.6 107.8 70.2 113.1 73.4 122.9 77.9 128.8 82.0 136.9 89.7 146.2 93.9 149.7 95.9 152.1 97.8 154.4 100.5 159.2 108.6 164.1 120.0 167.6 131.4 169.4 140.5 171.1 153.0 171.6 162.1 171.9 182.6 172.8 189.4Z" fill="#f2cbb7" stroke="#f2cbb7" stroke-width="0.6" stroke-linejoin="round"/>
<path d="M174.7 189.4 176.9 189.4 175.4 180.3 174.8 156.4 173.7 146.2 171.0 132.5 167.6 121.1 162.1 108.6 155.8 98.4 153.2 95.6 150.9 93.7 147.4 91.7 139.3 88.0 126.4 76.6 117.1 71.1 111.3 67.0 107.8 65.9 104.3 66.5 99.6 68.2 70.5 80.8 62.3 84.9 58.8 87.0 56.5 89.0 48.3 98.8 56.5 89.2 60.0 86.5 64.6 83.9 71.6 80.6 96.1 70.6 101.9 68.6 106.6 67.8 109.8 68.8 114.9 72.2 124.1 77.0 128.8 80.3 138.1 88.9 147.4 93.1 150.5 95.0 155.1 99.5 160.6 108.6 165.6 120.0 168.8 130.2 171.0 140.5 172.7 151.9 173.2 161.0 173.6 181.4 174.7 189.4Z" fill="#f3c8b2" stroke="#f3c8b2" stroke-width="0.6" stroke-linejoin="round"/>
<path d="M176.9 189.4 179.1 189.4 177.4 179.2 176.7 157.5 175.9 148.4 174.3 139.3 172.2 130.2 170.0 123.4 166.9 115.4 160.5 102.9 157.5 98.4 154.6 95.0 149.7 91.3 139.3 86.1 129.9 77.2 125.3 73.7 112.4 65.0 108.9 64.1 105.4 64.6 69.3 81.0 61.1 85.2 57.6 87.7 55.3 90.0 48.3 98.8 56.5 89.0 58.8 87.0 62.3 84.9 70.5 80.8 99.6 68.2 104.3 66.5 107.8 65.9 111.3 67.0 117.1 71.1 126.4 76.6 139.3 88.0 147.4 91.7 150.9 93.7 153.2 95.6 155.8 98.4 160.9 106.3 166.2 117.7 170.2 129.1 172.5 139.3 174.3 150.7 175.0 159.8 175.4 180.3 176.9 189.4Z" fill="#f5c4ac" stroke="#f5c4ac" stroke-width="0.6" stroke-linejoin="round"/>
<path d="M178.9 188.3 179.1 189.4 181.6 189.4 179.4 176.9 178.6 156.4 177.6 146.2 175.7 137.1 172.9 126.8 170.0 118.9 166.4 110.9 160.7 100.7 157.9 96.6 155.5 93.8 150.9 90.3 140.4 84.7 128.8 73.7 117.4 65.4 113.6 63.2 110.1 62.4 106.6 62.7 101.9 64.6 87.5 72.2 69.3 80.6 60.0 85.6 55.3 89.8 48.3 98.8 54.1 91.3 57.6 87.7 61.1 85.2 67.0 82.1 105.4 64.6 107.8 64.1 110.1 64.2 112.4 65.0 114.8 66.4 128.8 76.3 139.3 86.1 148.6 90.7 153.2 93.8 157.5 98.4 163.0 107.5 166.9 115.4 170.0 123.4 172.5 131.4 174.8 141.6 176.6 155.3 177.4 179.2 178.9 188.3Z" fill="#f5c0a7" stroke="#f5c0a7" stroke-width="0.6" stroke-linejoin="round"/>
<path d="M181.6 189.4 184.1 189.4 181.6 175.7 180.5 154.1 179.7 146.2 178.0 138.2 175.2 128.0 172.3 120.0 169.3 113.2 161.8 99.5 156.7 92.9 152.1 89.1 140.6 82.5 128.8 70.7 120.1 64.2 115.9 61.9 111.3 60.6 107.8 60.9 103.1 62.6 86.1 72.2 68.1 80.8 60.0 85.3 57.6 87.2 54.1 91.0 48.3 98.7 55.3 89.8 60.0 85.6 69.3 80.6 87.5 72.2 101.9 64.6 106.6 62.7 110.1 62.4 113.6 63.2 117.1 65.2 128.8 73.7 140.4 84.7 149.7 89.6 154.4 92.9 159.2 98.4 165.2 108.6 169.1 116.6 172.2 124.5 174.6 132.5 176.7 141.6 178.5 154.1 179.5 178.0 181.6 189.4Z" fill="#f6bda2" stroke="#f6bda2" stroke-width="0.6" stroke-linejoin="round"/>
<path d="M184.1 189.4 186.7 189.4 183.9 173.5 181.9 146.2 180.5 139.3 177.9 130.2 175.2 122.3 172.3 115.4 164.4 100.7 161.5 96.1 158.8 92.7 153.2 87.8 144.3 82.5 141.6 80.4 131.1 69.4 124.5 64.2 118.8 60.8 113.6 59.0 108.9 59.0 104.3 60.6 84.7 72.2 68.1 80.4 60.0 85.0 54.1 90.8 48.3 98.7 54.1 91.0 57.6 87.2 60.0 85.3 68.1 80.8 86.1 72.2 103.1 62.6 107.8 60.9 111.3 60.6 115.9 61.9 120.1 64.2 128.8 70.7 140.6 82.5 152.1 89.1 156.5 92.7 159.1 95.6 161.8 99.5 168.1 110.9 171.4 117.7 174.4 125.7 176.9 133.7 179.0 142.8 180.4 153.0 181.6 175.7 184.1 189.4Z" fill="#f7b99e" stroke="#f7b99e" stroke-width="0.6" stroke-linejoin="round"/>
<path d="M186.7 189.4 189.4 189.4 186.2 171.2 184.0 145.0 182.5 138.2 179.7 129.1 174.4 115.4 165.1 98.4 160.2 91.5 154.4 86.2 143.7 79.0 140.1 75.6 132.3 66.7 127.4 63.1 120.6 59.3 115.0 57.4 110.1 57.2 105.4 58.5 100.8 61.1 81.3 73.4 67.0 80.7 60.0 84.7 54.1 90.6 48.3 98.7 54.1 90.8 60.0 85.0 68.1 80.4 84.7 72.2 104.3 60.6 108.9 59.0 113.6 59.0 118.3 60.6 122.8 63.1 130.5 68.8 141.6 80.4 144.3 82.5 153.2 87.8 157.9 91.7 163.0 98.4 171.2 113.2 173.8 118.9 176.8 126.8 181.3 142.8 182.5 151.9 183.9 173.5 186.7 189.4Z" fill="#f7b497" stroke="#f7b497" stroke-width="0.6" stroke-linejoin="round"/>
<path d="M189.4 189.4 192.1 189.4 188.8 170.1 186.1 143.9 182.8 131.4 177.2 116.6 166.8 97.2 162.0 90.4 156.7 85.3 145.1 76.7 134.6 65.4 130.2 62.0 122.9 58.0 117.1 56.0 111.3 55.5 107.8 56.1 105.4 57.1 100.8 59.7 80.1 73.4 63.5 82.2 60.0 84.4 54.1 90.5 48.3 98.7 54.1 90.6 60.0 84.7 67.0 80.7 81.3 73.4 100.8 61.1 105.4 58.5 110.1 57.2 115.0 57.4 120.6 59.3 127.4 63.1 132.3 66.7 140.1 75.6 143.7 79.0 154.4 86.2 160.2 91.5 165.1 98.4 173.8 114.3 179.4 128.0 183.6 142.8 184.7 150.7 186.4 172.3 189.4 189.4Z" fill="#f7b093" stroke="#f7b093" stroke-width="0.6" stroke-linejoin="round"/>
<path d="M192.1 189.4 194.9 189.4 191.4 167.8 188.6 143.9 187.4 138.2 185.0 130.2 178.6 114.3 168.0 95.0 163.0 88.1 157.9 83.1 147.0 74.5 137.4 64.2 132.3 60.3 124.6 56.3 118.3 54.4 111.3 54.0 106.6 55.1 100.5 58.6 78.8 73.4 61.1 83.3 58.8 85.1 55.3 88.8 49.5 96.8 48.6 98.4 51.8 93.5 56.5 87.7 61.1 83.6 80.1 73.4 100.8 59.7 106.6 56.6 111.3 55.5 117.1 56.0 122.9 58.0 130.2 62.0 134.6 65.4 145.1 76.7 156.7 85.3 161.4 89.8 166.8 97.2 176.1 114.3 181.7 128.0 185.7 141.6 186.9 149.6 188.8 170.1 192.1 189.4Z" fill="#f7ac8e" stroke="#f7ac8e" stroke-width="0.6" stroke-linejoin="round"/>
<path d="M194.9 189.4 197.9 189.4 191.2 143.9 189.7 137.1 187.6 130.2 180.8 113.2 177.5 106.3 171.1 95.0 165.5 87.0 160.2 81.5 149.3 72.2 140.4 63.1 134.6 58.6 126.4 54.6 119.4 52.7 112.4 52.4 108.9 53.0 106.6 53.8 98.5 58.6 77.6 73.4 61.1 82.9 55.3 88.6 49.5 96.8 48.6 98.4 51.8 93.4 55.3 88.8 58.8 85.1 61.1 83.3 78.8 73.4 100.5 58.6 106.6 55.1 111.3 54.0 118.3 54.4 124.6 56.3 132.3 60.3 137.4 64.2 147.0 74.5 157.9 83.1 163.0 88.1 168.0 95.0 178.1 113.2 184.2 128.0 187.9 140.5 189.3 148.4 191.4 167.8 194.9 189.4Z" fill="#f7a889" stroke="#f7a889" stroke-width="0.6" stroke-linejoin="round"/>
<path d="M197.9 189.4 201.0 189.4 193.9 142.8 192.2 135.9 189.7 128.0 181.2 107.3 174.8 95.0 171.2 89.3 167.6 84.7 162.6 79.4 152.1 70.0 144.0 62.0 138.1 57.4 129.9 53.5 121.8 51.2 113.6 51.0 110.1 51.5 106.6 52.6 96.7 58.6 76.3 73.4 61.1 82.6 55.3 88.4 49.5 96.7 48.6 98.4 51.8 93.2 55.3 88.6 61.1 82.9 77.6 73.4 98.5 58.6 106.6 53.8 108.9 53.0 112.4 52.4 119.4 52.7 126.4 54.6 134.6 58.6 140.4 63.1 149.3 72.2 160.2 81.5 164.9 86.3 170.4 93.8 179.8 110.9 186.4 126.8 190.3 139.3 191.8 147.3 197.9 189.4Z" fill="#f6a283" stroke="#f6a283" stroke-width="0.6" stroke-linejoin="round"/>
<path d="M201.0 189.4 204.4 189.4 200.8 164.4 196.7 141.6 194.7 133.7 192.4 126.8 180.6 97.2 175.9 89.3 168.4 80.2 147.4 60.2 140.8 55.1 136.9 53.2 132.3 51.5 127.6 50.2 122.9 49.5 114.8 49.4 110.1 50.3 106.6 51.4 96.5 57.4 85.6 65.2 76.8 72.2 61.1 82.2 55.3 88.2 49.5 96.6 48.6 98.4 51.8 93.1 55.3 88.4 61.1 82.6 76.3 73.4 96.7 58.6 106.6 52.6 110.1 51.5 113.6 51.0 121.8 51.2 129.9 53.5 138.1 57.4 144.0 62.0 166.6 83.6 173.4 92.7 180.1 104.8 188.4 124.5 192.8 138.2 194.9 148.4 201.0 189.4Z" fill="#f59d7e" stroke="#f59d7e" stroke-width="0.6" stroke-linejoin="round"/>
<path d="M204.4 189.4 208.4 189.4 207.1 183.7 204.3 162.1 201.2 146.2 197.0 130.2 188.2 107.5 183.6 92.7 179.3 85.9 172.1 77.9 150.9 57.8 143.9 52.5 140.4 50.8 135.8 49.2 129.9 48.1 124.1 47.5 118.3 47.6 113.6 48.3 108.9 49.4 105.4 50.9 100.0 54.0 91.5 59.7 85.6 64.0 75.6 72.2 61.1 81.9 55.3 88.0 49.1 97.2 48.6 98.4 51.8 93.0 55.3 88.2 61.1 82.2 76.8 72.2 85.6 65.2 96.5 57.4 106.6 51.4 110.1 50.3 114.8 49.4 122.9 49.5 127.6 50.2 132.3 51.5 136.9 53.2 140.8 55.1 147.4 60.2 168.4 80.2 175.9 89.3 180.6 97.2 192.0 125.7 195.9 138.2 199.3 155.3 204.4 189.4Z" fill="#f4987a" stroke="#f4987a" stroke-width="0.6" stroke-linejoin="round"/>
<path d="M208.4 189.4 213.7 189.4 211.3 182.6 208.8 163.2 206.7 151.9 201.5 132.5 198.3 123.4 191.5 106.3 187.9 92.7 186.3 88.1 182.4 81.9 176.8 75.6 154.4 54.9 149.7 51.1 146.2 48.8 142.7 47.2 138.1 45.9 133.4 45.4 127.6 45.4 120.6 45.8 114.8 46.6 110.1 47.9 105.4 49.8 98.2 54.0 89.1 60.1 74.4 72.2 61.1 81.5 55.3 87.7 49.0 97.2 48.6 98.4 51.1 93.8 55.3 88.0 61.1 81.9 75.6 72.2 85.6 64.0 91.5 59.7 100.0 54.0 105.4 50.9 108.9 49.4 113.6 48.3 118.3 47.6 124.1 47.5 129.9 48.1 135.8 49.2 140.4 50.8 143.9 52.5 150.9 57.8 172.1 77.9 179.3 85.9 183.6 92.7 188.2 107.5 196.6 129.1 199.6 139.3 203.9 159.8 207.1 183.7 208.4 189.4Z" fill="#f39475" stroke="#f39475" stroke-width="0.6" stroke-linejoin="round"/>
<path d="M213.7 189.4 220.7 189.4 217.9 183.7 216.2 178.8 213.1 157.5 209.7 143.9 204.0 126.8 194.9 104.1 191.5 90.4 189.4 84.7 185.9 78.5 180.6 72.2 156.7 50.6 148.6 44.7 145.1 43.0 141.6 42.0 135.8 41.8 115.9 44.9 110.1 46.7 104.3 49.3 87.9 59.8 71.9 73.4 61.1 81.1 55.3 87.5 49.0 97.2 48.5 98.4 51.0 93.8 55.3 87.7 61.1 81.5 74.4 72.2 89.1 60.1 98.2 54.0 105.4 49.8 110.1 47.9 114.8 46.6 120.6 45.8 127.6 45.4 133.4 45.4 138.1 45.9 142.7 47.2 146.2 48.8 149.7 51.1 154.4 54.9 176.8 75.6 182.4 81.9 185.9 87.4 187.9 92.7 191.5 106.3 199.6 126.8 203.9 140.5 208.3 159.8 211.3 182.6 213.7 189.4Z" fill="#f18d6f" stroke="#f18d6f" stroke-width="0.6" stroke-linejoin="round"/>
<path d="M220.7 189.4 229.5 189.4 225.4 181.4 222.9 174.6 221.9 170.1 220.0 156.4 218.2 149.6 200.6 105.2 195.4 88.1 192.8 81.3 188.9 74.5 183.6 67.9 159.1 46.3 154.4 42.8 150.5 40.4 143.9 37.8 140.4 37.3 138.1 37.5 113.6 44.1 103.1 48.8 86.8 59.4 72.3 72.2 61.1 80.7 57.6 84.3 54.1 88.8 48.9 97.2 48.5 98.4 51.7 92.7 55.3 87.5 61.1 81.1 71.9 73.4 87.9 59.8 104.3 49.3 110.1 46.7 115.9 44.9 134.6 41.9 138.1 41.7 141.6 42.0 147.4 44.1 150.9 46.1 155.6 49.7 179.4 71.1 184.7 76.8 188.3 82.5 191.1 89.3 195.2 104.9 204.0 126.8 209.7 143.9 213.1 157.5 216.2 178.8 217.9 183.7 220.7 189.4Z" fill="#ef886b" stroke="#ef886b" stroke-width="0.6" stroke-linejoin="round"/>
<path d="M228.8 188.3 229.5 189.4 233.7 189.4 233.7 177.4 231.9 172.3 230.6 166.6 228.8 150.7 227.9 146.4 226.1 142.8 218.5 131.5 213.9 122.2 206.9 105.2 200.2 85.9 197.3 79.0 192.5 71.1 186.6 64.2 162.6 42.9 157.7 39.2 153.2 36.6 148.6 34.7 145.1 33.9 141.6 33.5 138.1 33.8 126.4 38.4 112.4 43.1 103.1 47.7 85.6 59.1 71.2 72.2 62.3 79.2 58.8 82.7 54.4 88.1 48.9 97.2 48.5 98.4 50.2 95.0 54.1 88.8 57.6 84.3 61.1 80.7 72.3 72.2 86.8 59.4 103.1 48.8 113.6 44.1 138.1 37.5 140.4 37.3 143.9 37.8 149.7 40.0 154.2 42.6 158.8 46.0 183.3 67.7 188.1 73.4 191.6 79.0 195.0 87.0 201.0 106.3 217.8 148.4 220.0 156.4 221.9 170.1 222.9 174.6 225.4 181.4 228.8 188.3Z" fill="#ed8366" stroke="#ed8366" stroke-width="0.6" stroke-linejoin="round"/>
<path d="M233.5 176.9 233.7 134.2 231.4 131.0 224.4 123.9 220.3 117.7 217.2 110.9 208.6 88.1 203.7 77.9 197.8 68.8 191.5 62.0 182.0 54.0 166.1 39.2 160.2 35.0 155.2 32.4 150.9 30.9 146.2 30.0 141.6 30.0 138.1 30.6 134.6 31.8 124.2 36.9 111.3 42.1 103.1 46.5 85.6 57.9 79.8 62.9 70.1 72.2 62.3 78.7 55.0 87.0 51.3 92.7 48.8 97.2 48.5 98.4 51.4 92.7 55.3 86.9 58.8 82.7 62.3 79.2 71.2 72.2 85.6 59.1 103.1 47.7 112.4 43.1 126.4 38.4 138.1 33.8 143.9 33.7 147.4 34.4 151.5 35.8 156.7 38.6 162.3 42.6 185.4 63.1 190.8 68.8 195.4 75.6 199.3 83.6 206.9 105.2 213.9 122.3 218.5 131.5 226.1 142.8 227.8 146.2 228.8 150.7 230.6 166.6 231.9 172.3 233.5 176.9Z" fill="#eb7d62" stroke="#eb7d62" stroke-width="0.6" stroke-linejoin="round"/>
<path d="M233.3 133.7 233.7 134.2 233.7 112.9 230.2 110.9 227.9 108.6 226.7 105.9 226.2 102.9 226.3 100.7 227.1 98.4 227.9 97.3 231.4 95.7 232.3 93.8 232.5 91.6 231.4 88.4 229.0 86.5 224.4 85.3 220.9 82.9 216.2 78.2 206.1 66.5 200.5 60.8 195.0 56.3 184.7 48.8 174.7 39.2 169.6 34.9 161.4 29.7 156.7 27.8 152.1 26.5 147.4 26.0 143.9 26.1 139.3 27.0 135.8 28.2 122.9 35.2 108.9 41.8 86.8 55.8 79.8 61.6 60.0 80.6 55.6 85.9 52.5 90.4 48.3 98.5 53.4 89.3 60.0 81.1 70.1 72.2 82.1 60.8 87.9 56.2 103.1 46.5 108.9 43.3 124.2 36.9 134.6 31.8 138.1 30.6 141.6 30.0 148.6 30.3 152.1 31.3 156.7 33.1 164.9 38.3 170.7 43.2 182.4 54.4 191.5 62.0 196.9 67.7 201.7 74.5 206.0 82.5 209.9 91.6 217.4 111.4 220.9 118.8 224.4 123.9 231.4 131.0 233.3 133.7Z" fill="#e8765c" stroke="#e8765c" stroke-width="0.6" stroke-linejoin="round"/>
<path d="M232.1 112.0 233.7 112.9 233.7 71.5 227.9 66.9 205.7 51.3 187.1 39.8 171.9 28.4 167.2 25.9 162.6 23.9 156.7 22.3 152.1 21.7 147.4 21.7 143.9 22.2 140.4 23.1 135.8 25.0 121.8 33.5 107.8 40.9 95.4 49.5 85.6 55.5 77.5 62.6 58.8 81.6 52.3 90.4 48.3 98.5 52.5 90.4 55.6 85.9 60.0 80.6 79.8 61.6 86.8 55.8 108.9 41.8 122.9 35.2 134.6 28.7 141.6 26.5 148.6 26.1 153.2 26.8 159.1 28.6 164.3 31.3 169.3 34.7 174.7 39.2 184.7 48.8 195.0 56.3 200.5 60.8 206.1 66.5 216.2 78.2 220.9 82.9 224.4 85.3 230.2 87.1 231.4 88.4 232.2 90.4 232.3 93.8 231.4 95.7 227.9 97.3 227.1 98.4 226.3 100.7 226.2 102.9 226.7 105.9 227.9 108.6 229.0 110.0 232.1 112.0Z" fill="#e57058" stroke="#e57058" stroke-width="0.6" stroke-linejoin="round"/>
<path d="M48.3 98.5 52.3 90.4 58.8 81.6 77.5 62.6 84.4 56.4 87.9 53.8 95.4 49.5 108.9 40.2 121.8 33.5 134.6 25.6 138.1 23.9 142.7 22.4 148.6 21.7 155.6 22.1 162.6 23.9 168.9 26.7 175.4 30.8 188.2 40.5 206.9 52.1 227.9 66.9 233.7 71.5 233.7 54.2 218.5 41.7 211.5 36.7 202.2 31.3 190.6 25.9 174.2 20.0 163.7 17.3 154.4 16.5 149.7 16.8 145.1 17.7 139.3 19.7 133.4 22.9 121.5 31.3 106.6 40.0 95.5 48.3 86.8 53.5 83.1 56.3 75.1 63.8 58.8 81.2 52.1 90.4 48.3 98.5Z" fill="#e36b54" stroke="#e36b54" stroke-width="0.6" stroke-linejoin="round"/>
<path d="M48.3 98.5 52.1 90.4 58.8 81.2 75.1 63.8 82.1 57.1 86.8 53.5 95.5 48.3 107.8 39.2 121.5 31.3 134.6 22.2 141.6 18.7 146.2 17.4 150.9 16.7 155.6 16.5 161.4 17.0 171.9 19.3 186.7 24.4 199.9 30.1 210.4 36.0 218.5 41.7 233.7 54.2 233.7 29.3 225.5 22.8 215.8 17.6 203.4 13.0 189.4 9.4 182.4 8.6 160.2 9.9 150.9 11.3 143.9 13.3 139.3 15.5 135.8 17.7 121.0 29.0 105.4 39.1 94.9 47.6 86.8 52.4 80.9 56.9 71.6 66.2 57.4 82.5 51.3 91.6 48.3 98.5Z" fill="#e0654f" stroke="#e0654f" stroke-width="0.6" stroke-linejoin="round"/>
<path d="M48.3 98.5 51.3 91.6 57.4 82.5 65.8 72.6 80.3 57.4 86.0 52.9 95.6 47.2 106.6 38.2 119.4 30.1 134.6 18.5 140.4 14.9 147.4 12.2 156.7 10.3 181.2 8.7 188.2 9.2 202.2 12.6 215.8 17.6 225.5 22.8 233.7 29.3 233.7 8.5 143.2 8.5 135.8 13.2 121.8 25.6 105.4 37.2 94.0 47.2 85.6 52.0 78.6 57.8 67.0 70.2 56.2 83.6 51.1 91.6 48.3 98.5Z" fill="#dc5d4a" stroke="#dc5d4a" stroke-width="0.6" stroke-linejoin="round"/>
<path d="M48.3 98.5 51.1 91.6 56.2 83.6 67.0 70.2 78.6 57.8 85.6 52.0 94.0 47.2 105.4 37.2 121.8 25.6 135.8 13.2 143.2 8.5 135.4 8.5 124.5 19.9 119.6 24.4 104.3 36.1 94.0 46.0 84.4 51.7 78.6 56.5 68.1 67.6 55.8 83.6 50.9 91.6 48.3 98.5Z" fill="#d85646" stroke="#d85646" stroke-width="0.6" stroke-linejoin="round"/>
<path d="M48.3 98.5 50.9 91.6 55.0 84.7 67.0 69.0 75.1 60.0 83.3 52.6 94.0 46.0 104.3 36.1 119.6 24.4 124.5 19.9 135.4 8.5 130.3 8.5 124.1 16.5 117.4 23.3 103.1 34.9 93.6 44.9 83.3 51.4 79.8 54.2 75.1 58.7 67.0 67.7 54.6 84.7 51.2 90.4 48.9 96.1 48.3 98.5Z" fill="#d55042" stroke="#d55042" stroke-width="0.6" stroke-linejoin="round"/>
<path d="M48.3 98.4 50.1 92.7 52.4 88.1 65.8 69.2 69.9 64.2 80.0 54.0 84.4 50.6 93.6 44.9 103.1 34.9 118.7 22.2 124.1 16.5 130.3 8.5 126.1 8.5 122.4 14.2 118.6 18.7 114.0 23.3 101.9 33.6 93.8 43.0 91.6 44.9 84.4 49.4 79.8 52.9 69.7 63.1 65.8 67.8 52.1 88.1 49.9 92.7 48.3 98.4Z" fill="#d1493f" stroke="#d1493f" stroke-width="0.6" stroke-linejoin="round"/>
<path d="M48.3 98.4 49.9 92.7 52.1 88.1 68.1 64.8 79.8 52.9 84.4 49.4 91.6 44.9 93.8 43.0 101.9 33.6 114.0 23.3 118.6 18.7 122.4 14.2 126.1 8.5 122.3 8.5 119.7 13.1 116.2 17.6 111.8 22.2 100.8 32.2 92.6 42.3 79.8 51.6 68.1 63.4 65.8 66.3 60.1 75.6 52.3 87.0 49.7 92.7 48.3 98.4Z" fill="#cc403a" stroke="#cc403a" stroke-width="0.6" stroke-linejoin="round"/>
<path d="M48.3 98.4 48.9 95.0 51.0 89.3 67.0 64.8 78.6 52.7 92.6 42.3 100.8 32.2 111.8 22.2 116.2 17.6 119.7 13.1 122.3 8.5 118.6 8.5 116.2 13.1 113.7 16.5 100.8 29.3 91.4 41.3 78.6 51.3 67.0 63.3 58.8 76.6 51.2 88.1 49.1 93.8 48.3 98.4Z" fill="#c83836" stroke="#c83836" stroke-width="0.6" stroke-linejoin="round"/>
<path d="M48.3 98.4 49.1 93.8 51.2 88.1 58.8 76.6 67.0 63.3 78.6 51.3 91.4 41.3 100.8 29.3 113.7 16.5 116.2 13.1 118.6 8.5 114.8 8.5 113.3 11.9 111.0 15.3 99.6 27.3 90.3 40.2 77.5 51.0 66.8 62.0 64.4 65.4 58.7 75.6 51.1 87.0 49.1 92.7 48.3 98.4Z" fill="#c43032" stroke="#c43032" stroke-width="0.6" stroke-linejoin="round"/>
<path d="M48.3 98.4 49.1 92.7 51.1 87.0 58.7 75.6 65.8 63.3 69.3 59.2 77.5 51.0 90.3 40.2 99.6 27.3 111.0 15.3 113.3 11.9 114.8 8.5 110.8 8.5 109.9 10.8 107.8 14.2 97.6 25.6 91.3 35.8 88.7 39.2 76.3 50.6 68.3 58.6 65.8 61.6 56.5 77.9 50.6 86.5 48.7 92.7 48.3 98.4Z" fill="#c0282f" stroke="#c0282f" stroke-width="0.6" stroke-linejoin="round"/>
<path d="M48.3 97.2 49.0 91.6 50.6 86.5 57.6 76.1 65.5 62.0 68.3 58.6 75.2 51.7 88.7 39.2 91.3 35.8 97.6 25.6 107.8 14.2 109.9 10.8 110.8 8.5 106.0 8.5 103.8 13.1 97.7 19.9 95.1 23.3 89.3 34.7 87.0 38.1 68.1 56.8 64.8 60.8 56.5 76.6 54.1 80.2 51.8 82.3 50.6 84.1 48.7 90.4 48.3 97.2Z" fill="#ba162b" stroke="#ba162b" stroke-width="0.6" stroke-linejoin="round"/>
<path d="M48.3 92.7 48.9 89.3 50.6 84.1 51.8 82.3 54.1 80.2 56.5 76.6 64.8 60.8 68.1 56.8 87.0 38.1 89.3 34.7 95.1 23.3 97.7 19.9 103.8 13.1 106.0 8.5 48.3 8.5 48.3 92.7Z" fill="#b40426" stroke="#b40426" stroke-width="0.6" stroke-linejoin="round"/>
<path d="M48.3 99.0 L49.9 98.0 L51.4 97.0 L53.0 96.1 L54.6 95.1 L56.2 94.2 L57.7 93.2 L59.3 92.3 L60.9 91.4 L62.4 90.6 L64.0 89.9 L65.6 89.2 L67.2 88.6 L68.7 88.0 L70.3 87.4 L71.9 86.8 L73.4 86.2 L75.0 85.7 L76.6 85.3 L78.2 84.8 L79.7 84.4 L81.3 84.0 L82.9 83.7 L84.4 83.6 L86.0 83.5 L87.6 83.4 L89.2 83.4 L90.7 83.4 L92.3 83.5 L93.9 83.7 L95.4 83.9 L97.0 84.2 L98.6 84.8 L100.1 85.5 L101.7 86.2 L103.3 87.1 L104.9 88.2 L106.4 89.4 L108.0 90.6 L109.6 92.0 L111.1 93.4 L112.7 95.1 L114.3 96.8 L115.9 98.8 L117.4 101.1 L119.0 103.6 L120.6 106.2 L122.1 109.1 L123.7 112.3 L125.3 115.9 L126.9 119.9 L128.4 124.2 L130.0 128.9 L131.6 134.2 L133.1 140.5 L134.7 147.5 L136.3 155.7 L137.9 165.5 L139.4 177.2 L141.0 192.1" stroke="#fff" stroke-width="1.2" fill="none"/>
</g>
<rect x="48.3" y="8.5" width="185.4" height="180.9" fill="none" stroke="#555" stroke-width="0.9"/>
<path d="M138.8 103 C137.5 113 136 123 135.2 133" stroke="#222" stroke-width="1" fill="none"/>
<path d="M132.2 127.3 L135.2 133 L138.3 128.5" stroke="#222" stroke-width="1" fill="none"/>
<path d="M403 119.6 C405.6 115.4 409 115.2 410.6 117.4 C412.2 119.6 415 119.8 417.6 115.4" stroke="#111" stroke-width="1.3" fill="none"/>
<path d="M136.6 83.2 C138.2 80.2 140.6 80.4 141.6 81.9 C142.6 83.3 144.2 83.4 145.2 80.6" stroke="#333" stroke-width="1.3" fill="none"/>
<text transform="translate(66.09,30.59) scale(1.041,1)" style="font-family:&quot;Liberation Sans&quot;, sans-serif;font-size:20.57px;" fill="#000">DENATURED</text>
<text transform="translate(49.86,143.70) scale(1.043,1)" style="font-family:&quot;Liberation Sans&quot;, sans-serif;font-size:20.87px;" fill="#000">NATIVE</text>
<text transform="translate(34.60,15.60) scale(1.000,1)" style="font-family:&quot;Liberation Sans&quot;, sans-serif;font-size:20.00px;" fill="#000">1</text>
<text transform="translate(35.57,105.22) scale(1.153,1)" style="font-family:&quot;Liberation Sans&quot;, sans-serif;font-size:17.89px;" fill="#000">0</text>
<text transform="translate(24.43,196.10) scale(0.885,1)" style="font-family:&quot;Liberation Sans&quot;, sans-serif;font-size:19.57px;" fill="#000">−1</text>
<text transform="translate(43.05,205.41) scale(0.979,1)" style="font-family:&quot;Liberation Sans&quot;, sans-serif;font-size:19.15px;" fill="#000">0</text>
<text transform="translate(133.40,205.70) scale(1.000,1)" style="font-family:&quot;Liberation Sans&quot;, sans-serif;font-size:17.97px;" fill="#000">1</text>
<text transform="translate(224.02,205.70) scale(1.104,1)" style="font-family:&quot;Liberation Sans&quot;, sans-serif;font-size:17.71px;" fill="#000">2</text>
<text transform="translate(16.20,80.35) scale(1.217,1)" style="font-family:&quot;Liberation Serif&quot;, serif;font-size:35.00px;" fill="#000">α</text>
<text transform="translate(178.87,218.57) scale(1.098,1)" style="font-family:&quot;Liberation Serif&quot;, serif;font-size:33.40px;" fill="#000">τ</text>
<text transform="translate(136.10,95.81) scale(1.033,1)" style="font-family:&quot;Liberation Sans&quot;, sans-serif;font-size:18.55px;font-style:italic" fill="#333">s</text>
<text transform="translate(148.13,92.52) scale(1.016,1)" style="font-family:&quot;Liberation Sans&quot;, sans-serif;font-size:18.29px;" fill="#333">*</text>
<text transform="translate(162.97,96.59) scale(1.295,1)" style="font-family:&quot;Liberation Sans&quot;, sans-serif;font-size:18.75px;" fill="#333">≈</text>
<text transform="translate(185.98,96.00) scale(1.000,1)" style="font-family:&quot;Liberation Sans&quot;, sans-serif;font-size:18.70px;" fill="#333">1</text>
<text transform="translate(607.83,158.70) scale(1.273,1)" style="font-family:&quot;Liberation Sans&quot;, sans-serif;font-size:20.00px;" fill="#000">2.0</text>
<text transform="translate(605.12,276.81) scale(1.281,1)" style="font-family:&quot;Liberation Sans&quot;, sans-serif;font-size:19.30px;" fill="#000">1.0</text>
<text transform="translate(601.31,392.31) scale(1.305,1)" style="font-family:&quot;Liberation Sans&quot;, sans-serif;font-size:19.01px;" fill="#000">0.0</text>
<text transform="translate(124.43,492.70) scale(1.241,1)" style="font-family:&quot;Liberation Sans&quot;, sans-serif;font-size:19.86px;" fill="#000">1.0</text>
<text transform="translate(238.50,486.80) scale(1.235,1)" style="font-family:&quot;Liberation Sans&quot;, sans-serif;font-size:20.28px;" fill="#000">0.5</text>
<text transform="translate(352.00,480.40) scale(1.271,1)" style="font-family:&quot;Liberation Sans&quot;, sans-serif;font-size:19.58px;" fill="#000">0.0</text>
<text transform="translate(459.81,473.00) scale(1.249,1)" style="font-family:&quot;Liberation Sans&quot;, sans-serif;font-size:19.72px;" fill="#000">-0.5</text>
<text transform="translate(569.80,467.70) scale(1.256,1)" style="font-family:&quot;Liberation Sans&quot;, sans-serif;font-size:19.86px;" fill="#000">-1.0</text>
<text transform="translate(-3.04,400.72) scale(1.417,1)" style="font-family:&quot;Liberation Sans&quot;, sans-serif;font-size:18.00px;" fill="#000">1.5</text>
<text transform="translate(41.36,443.02) scale(1.474,1)" style="font-family:&quot;Liberation Sans&quot;, sans-serif;font-size:17.61px;" fill="#000">0.8</text>
<text transform="translate(91.21,488.22) scale(1.372,1)" style="font-family:&quot;Liberation Sans&quot;, sans-serif;font-size:18.03px;" fill="#000">0.0</text>
<text transform="translate(648.44,304.90) scale(1.215,1)" style="font-family:&quot;Liberation Serif&quot;, serif;font-size:35.87px;font-style:italic" fill="#000">z</text>
<text transform="translate(365.71,505.61) scale(1.113,1)" style="font-family:&quot;Liberation Serif&quot;, serif;font-size:38.75px;font-style:italic" fill="#000">α</text>
<text transform="translate(340.62,136.00) scale(1.300,1)" style="font-family:&quot;Liberation Serif&quot;, serif;font-size:26.96px;font-style:italic" fill="#111">z</text>
<text transform="translate(366.79,139.35) scale(1.300,1)" style="font-family:&quot;Liberation Serif&quot;, serif;font-size:31.20px;" fill="#111">=</text>
<text transform="translate(404.09,136.03) scale(1.143,1)" style="font-family:&quot;Liberation Serif&quot;, serif;font-size:27.50px;font-style:italic" fill="#111">s</text>
<text transform="translate(417.68,136.33) scale(1.200,1)" style="font-family:&quot;Liberation Serif&quot;, serif;font-size:33.67px;" fill="#111">(</text>
<text transform="translate(431.97,135.74) scale(1.300,1)" style="font-family:&quot;Liberation Serif&quot;, serif;font-size:26.38px;font-style:italic" fill="#111">τ</text>
<text transform="translate(450.17,135.70) scale(0.730,1)" style="font-family:&quot;Liberation Serif&quot;, serif;font-size:42.00px;" fill="#111">,</text>
<text transform="translate(462.98,135.74) scale(1.300,1)" style="font-family:&quot;Liberation Serif&quot;, serif;font-size:25.83px;font-style:italic" fill="#111">α</text>
<text transform="translate(486.38,136.33) scale(1.211,1)" style="font-family:&quot;Liberation Serif&quot;, serif;font-size:33.67px;" fill="#111">)</text>
<text transform="translate(365.66,228.00) scale(1.300,1)" style="font-family:&quot;Liberation Serif&quot;, serif;font-size:27.61px;font-style:italic" fill="#111">z</text>
<text transform="translate(394.87,230.01) scale(1.300,1)" style="font-family:&quot;Liberation Serif&quot;, serif;font-size:27.20px;" fill="#111">=</text>
<text transform="translate(428.72,228.00) scale(1.129,1)" style="font-family:&quot;Liberation Serif&quot;, serif;font-size:28.33px;" fill="#111">1</text>
<text x="0" y="0" style="font-family:&quot;Liberation Serif&quot;,serif;font-size:31px;font-style:italic" transform="translate(15.3,450.5) rotate(31) skewX(-27) scale(1.25,1)">τ</text>
</svg></body></html>
